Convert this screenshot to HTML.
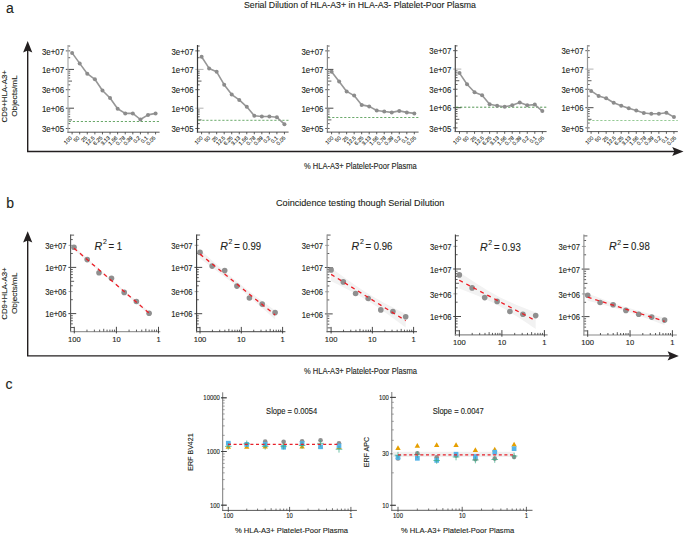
<!DOCTYPE html>
<html><head><meta charset="utf-8"><title>Serial Dilution</title>
<style>html,body{margin:0;padding:0;background:#fff;}body{width:685px;height:534px;overflow:hidden;font-family:"Liberation Sans", sans-serif;}svg{display:block;}text{stroke:#231f20;stroke-width:0.12px;}</style>
</head><body>
<svg width="685" height="534" viewBox="0 0 685 534" font-family='"Liberation Sans", sans-serif'>
<text x="6" y="12.9" font-size="14" text-anchor="start" fill="#231f20" >a</text>
<text x="6.2" y="208" font-size="14" text-anchor="start" fill="#231f20" >b</text>
<text x="5.6" y="389.1" font-size="14" text-anchor="start" fill="#231f20" >c</text>
<text x="244" y="7.9" font-size="9.6" text-anchor="start" fill="#231f20" textLength="232" lengthAdjust="spacingAndGlyphs" >Serial Dilution of HLA-A3+ in HLA-A3- Platelet-Poor Plasma</text>
<text x="276" y="206" font-size="9.6" text-anchor="start" fill="#231f20" textLength="168.4" lengthAdjust="spacingAndGlyphs" >Coincidence testing though Serial Dilution</text>
<line x1="27.7" y1="49.1" x2="27.7" y2="151.5" stroke="#231f20" stroke-width="1.4" />
<polygon points="27.7,41.1 32.3,52.4 27.7,50.4 23.1,52.4" fill="#231f20" />
<line x1="27" y1="151.5" x2="675.2" y2="151.5" stroke="#231f20" stroke-width="1.4" />
<polygon points="683.5,151.5 672.2,146.9 674.4,151.5 672.2,156.1" fill="#231f20" />
<text transform="translate(7.1,96.3) rotate(-90)" font-size="7.6" text-anchor="middle" fill="#231f20" textLength="52.4" lengthAdjust="spacingAndGlyphs">CD9+HLA-A3+</text>
<text transform="translate(16.9,96) rotate(-90)" font-size="7.6" text-anchor="middle" fill="#231f20" textLength="41.6" lengthAdjust="spacingAndGlyphs">Objects/mL</text>
<text x="304" y="169" font-size="8.6" text-anchor="start" fill="#231f20" textLength="112.8" lengthAdjust="spacingAndGlyphs" >% HLA-A3+ Platelet-Poor Plasma</text>
<line x1="65.8" y1="128.49" x2="70.2" y2="128.49" stroke="#333" stroke-width="0.8" />
<line x1="68" y1="123.64" x2="70.2" y2="123.64" stroke="#333" stroke-width="0.8" />
<line x1="68" y1="119.88" x2="72" y2="119.88" stroke="#333" stroke-width="0.8" />
<line x1="68" y1="116.81" x2="70.2" y2="116.81" stroke="#333" stroke-width="0.8" />
<line x1="68" y1="114.21" x2="70.2" y2="114.21" stroke="#333" stroke-width="0.8" />
<line x1="68" y1="111.96" x2="70.2" y2="111.96" stroke="#333" stroke-width="0.8" />
<line x1="68" y1="109.98" x2="70.2" y2="109.98" stroke="#333" stroke-width="0.8" />
<line x1="65.8" y1="108.2" x2="74" y2="108.2" stroke="#333" stroke-width="0.9" />
<line x1="68" y1="96.52" x2="70.2" y2="96.52" stroke="#333" stroke-width="0.8" />
<line x1="65.8" y1="89.69" x2="70.2" y2="89.69" stroke="#333" stroke-width="0.8" />
<line x1="68" y1="84.84" x2="70.2" y2="84.84" stroke="#333" stroke-width="0.8" />
<line x1="68" y1="81.08" x2="72" y2="81.08" stroke="#333" stroke-width="0.8" />
<line x1="68" y1="78.01" x2="70.2" y2="78.01" stroke="#333" stroke-width="0.8" />
<line x1="68" y1="75.41" x2="70.2" y2="75.41" stroke="#333" stroke-width="0.8" />
<line x1="68" y1="73.16" x2="70.2" y2="73.16" stroke="#333" stroke-width="0.8" />
<line x1="68" y1="71.18" x2="70.2" y2="71.18" stroke="#333" stroke-width="0.8" />
<line x1="65.8" y1="69.4" x2="74" y2="69.4" stroke="#333" stroke-width="0.9" />
<line x1="68" y1="57.72" x2="70.2" y2="57.72" stroke="#333" stroke-width="0.8" />
<line x1="65.8" y1="50.89" x2="70.2" y2="50.89" stroke="#333" stroke-width="0.8" />
<line x1="68" y1="46.04" x2="70.2" y2="46.04" stroke="#333" stroke-width="0.8" />
<line x1="68" y1="45" x2="68" y2="132.7" stroke="#ababab" stroke-width="1.2" />
<text x="64" y="54.59" font-size="8.6" text-anchor="end" fill="#231f20" textLength="22" lengthAdjust="spacingAndGlyphs" >3e+07</text>
<text x="64" y="73.1" font-size="8.6" text-anchor="end" fill="#231f20" textLength="22" lengthAdjust="spacingAndGlyphs" >1e+07</text>
<text x="64" y="93.39" font-size="8.6" text-anchor="end" fill="#231f20" textLength="22" lengthAdjust="spacingAndGlyphs" >3e+06</text>
<text x="64" y="111.9" font-size="8.6" text-anchor="end" fill="#231f20" textLength="22" lengthAdjust="spacingAndGlyphs" >1e+06</text>
<text x="64" y="132.19" font-size="8.6" text-anchor="end" fill="#231f20" textLength="22" lengthAdjust="spacingAndGlyphs" >3e+05</text>
<line x1="67.4" y1="132.2" x2="159.6" y2="132.2" stroke="#555" stroke-width="1.0" />
<line x1="72.1" y1="132.2" x2="72.1" y2="134.4" stroke="#333" stroke-width="0.8" />
<text transform="translate(72.4,138.3) rotate(-45)" font-size="5.4" text-anchor="end" fill="#231f20" stroke="#231f20" stroke-width="0.18">100</text>
<line x1="79.69" y1="132.2" x2="79.69" y2="134.4" stroke="#333" stroke-width="0.8" />
<text transform="translate(79.99,138.3) rotate(-45)" font-size="5.4" text-anchor="end" fill="#231f20" stroke="#231f20" stroke-width="0.18">50</text>
<line x1="87.28" y1="132.2" x2="87.28" y2="134.4" stroke="#333" stroke-width="0.8" />
<text transform="translate(87.58,138.3) rotate(-45)" font-size="5.4" text-anchor="end" fill="#231f20" stroke="#231f20" stroke-width="0.18">25</text>
<line x1="94.87" y1="132.2" x2="94.87" y2="134.4" stroke="#333" stroke-width="0.8" />
<text transform="translate(95.17,138.3) rotate(-45)" font-size="5.4" text-anchor="end" fill="#231f20" stroke="#231f20" stroke-width="0.18">12.5</text>
<line x1="102.46" y1="132.2" x2="102.46" y2="134.4" stroke="#333" stroke-width="0.8" />
<text transform="translate(102.76,138.3) rotate(-45)" font-size="5.4" text-anchor="end" fill="#231f20" stroke="#231f20" stroke-width="0.18">6.25</text>
<line x1="110.05" y1="132.2" x2="110.05" y2="134.4" stroke="#333" stroke-width="0.8" />
<text transform="translate(110.35,138.3) rotate(-45)" font-size="5.4" text-anchor="end" fill="#231f20" stroke="#231f20" stroke-width="0.18">3.13</text>
<line x1="117.64" y1="132.2" x2="117.64" y2="134.4" stroke="#333" stroke-width="0.8" />
<text transform="translate(117.94,138.3) rotate(-45)" font-size="5.4" text-anchor="end" fill="#231f20" stroke="#231f20" stroke-width="0.18">1.56</text>
<line x1="125.23" y1="132.2" x2="125.23" y2="134.4" stroke="#333" stroke-width="0.8" />
<text transform="translate(125.53,138.3) rotate(-45)" font-size="5.4" text-anchor="end" fill="#231f20" stroke="#231f20" stroke-width="0.18">0.78</text>
<line x1="132.82" y1="132.2" x2="132.82" y2="134.4" stroke="#333" stroke-width="0.8" />
<text transform="translate(133.12,138.3) rotate(-45)" font-size="5.4" text-anchor="end" fill="#231f20" stroke="#231f20" stroke-width="0.18">0.39</text>
<line x1="140.41" y1="132.2" x2="140.41" y2="134.4" stroke="#333" stroke-width="0.8" />
<text transform="translate(140.71,138.3) rotate(-45)" font-size="5.4" text-anchor="end" fill="#231f20" stroke="#231f20" stroke-width="0.18">0.2</text>
<line x1="148" y1="132.2" x2="148" y2="134.4" stroke="#333" stroke-width="0.8" />
<text transform="translate(148.3,138.3) rotate(-45)" font-size="5.4" text-anchor="end" fill="#231f20" stroke="#231f20" stroke-width="0.18">0.1</text>
<line x1="155.59" y1="132.2" x2="155.59" y2="134.4" stroke="#333" stroke-width="0.8" />
<text transform="translate(155.89,138.3) rotate(-45)" font-size="5.4" text-anchor="end" fill="#231f20" stroke="#231f20" stroke-width="0.18">0.05</text>
<line x1="68.8" y1="121.5" x2="159.6" y2="121.5" stroke="#5a9f5a" stroke-width="0.9" stroke-dasharray="2.2,1.8" />
<polyline points="72.1,52.9 79.69,63.4 87.28,73.7 94.87,79.3 102.46,90.5 110.05,98 117.64,108.7 125.23,113.4 132.82,113.4 140.41,119.5 148,114.9 155.59,113.4" fill="none" stroke="#979797" stroke-width="1.6" stroke-linejoin="round"/>
<circle cx="72.1" cy="52.9" r="2" fill="#8c8c8c" />
<circle cx="79.69" cy="63.4" r="2" fill="#8c8c8c" />
<circle cx="87.28" cy="73.7" r="2" fill="#8c8c8c" />
<circle cx="94.87" cy="79.3" r="2" fill="#8c8c8c" />
<circle cx="102.46" cy="90.5" r="2" fill="#8c8c8c" />
<circle cx="110.05" cy="98" r="2" fill="#8c8c8c" />
<circle cx="117.64" cy="108.7" r="2" fill="#8c8c8c" />
<circle cx="125.23" cy="113.4" r="2" fill="#8c8c8c" />
<circle cx="132.82" cy="113.4" r="2" fill="#8c8c8c" />
<circle cx="140.41" cy="119.5" r="2" fill="#8c8c8c" />
<circle cx="148" cy="114.9" r="2" fill="#8c8c8c" />
<circle cx="155.59" cy="113.4" r="2" fill="#8c8c8c" />
<line x1="195.3" y1="128.49" x2="199.7" y2="128.49" stroke="#333" stroke-width="0.8" />
<line x1="197.5" y1="123.64" x2="199.7" y2="123.64" stroke="#333" stroke-width="0.8" />
<line x1="197.5" y1="119.88" x2="201.5" y2="119.88" stroke="#333" stroke-width="0.8" />
<line x1="197.5" y1="116.81" x2="199.7" y2="116.81" stroke="#333" stroke-width="0.8" />
<line x1="197.5" y1="114.21" x2="199.7" y2="114.21" stroke="#333" stroke-width="0.8" />
<line x1="197.5" y1="111.96" x2="199.7" y2="111.96" stroke="#333" stroke-width="0.8" />
<line x1="197.5" y1="109.98" x2="199.7" y2="109.98" stroke="#333" stroke-width="0.8" />
<line x1="195.3" y1="108.2" x2="203.5" y2="108.2" stroke="#aaa" stroke-width="0.9" />
<line x1="197.5" y1="96.52" x2="199.7" y2="96.52" stroke="#333" stroke-width="0.8" />
<line x1="195.3" y1="89.69" x2="199.7" y2="89.69" stroke="#333" stroke-width="0.8" />
<line x1="197.5" y1="84.84" x2="199.7" y2="84.84" stroke="#333" stroke-width="0.8" />
<line x1="197.5" y1="81.08" x2="201.5" y2="81.08" stroke="#333" stroke-width="0.8" />
<line x1="197.5" y1="78.01" x2="199.7" y2="78.01" stroke="#333" stroke-width="0.8" />
<line x1="197.5" y1="75.41" x2="199.7" y2="75.41" stroke="#333" stroke-width="0.8" />
<line x1="197.5" y1="73.16" x2="199.7" y2="73.16" stroke="#333" stroke-width="0.8" />
<line x1="197.5" y1="71.18" x2="199.7" y2="71.18" stroke="#333" stroke-width="0.8" />
<line x1="195.3" y1="69.4" x2="203.5" y2="69.4" stroke="#aaa" stroke-width="0.9" />
<line x1="197.5" y1="57.72" x2="199.7" y2="57.72" stroke="#333" stroke-width="0.8" />
<line x1="195.3" y1="50.89" x2="199.7" y2="50.89" stroke="#333" stroke-width="0.8" />
<line x1="197.5" y1="46.04" x2="199.7" y2="46.04" stroke="#333" stroke-width="0.8" />
<line x1="197.5" y1="45" x2="197.5" y2="132.6" stroke="#3a3a3a" stroke-width="1.2" />
<text x="193.5" y="54.59" font-size="8.6" text-anchor="end" fill="#231f20" textLength="22" lengthAdjust="spacingAndGlyphs" >3e+07</text>
<text x="193.5" y="73.1" font-size="8.6" text-anchor="end" fill="#231f20" textLength="22" lengthAdjust="spacingAndGlyphs" >1e+07</text>
<text x="193.5" y="93.39" font-size="8.6" text-anchor="end" fill="#231f20" textLength="22" lengthAdjust="spacingAndGlyphs" >3e+06</text>
<text x="193.5" y="111.9" font-size="8.6" text-anchor="end" fill="#231f20" textLength="22" lengthAdjust="spacingAndGlyphs" >1e+06</text>
<text x="193.5" y="132.19" font-size="8.6" text-anchor="end" fill="#231f20" textLength="22" lengthAdjust="spacingAndGlyphs" >3e+05</text>
<line x1="196.9" y1="132.1" x2="288.6" y2="132.1" stroke="#555" stroke-width="1.0" />
<line x1="201.6" y1="132.1" x2="201.6" y2="134.3" stroke="#333" stroke-width="0.8" />
<text transform="translate(203.1,138.3) rotate(-45)" font-size="5.4" text-anchor="end" fill="#231f20" stroke="#231f20" stroke-width="0.18">100</text>
<line x1="209.13" y1="132.1" x2="209.13" y2="134.3" stroke="#333" stroke-width="0.8" />
<text transform="translate(210.63,138.3) rotate(-45)" font-size="5.4" text-anchor="end" fill="#231f20" stroke="#231f20" stroke-width="0.18">50</text>
<line x1="216.66" y1="132.1" x2="216.66" y2="134.3" stroke="#333" stroke-width="0.8" />
<text transform="translate(218.16,138.3) rotate(-45)" font-size="5.4" text-anchor="end" fill="#231f20" stroke="#231f20" stroke-width="0.18">25</text>
<line x1="224.19" y1="132.1" x2="224.19" y2="134.3" stroke="#333" stroke-width="0.8" />
<text transform="translate(225.69,138.3) rotate(-45)" font-size="5.4" text-anchor="end" fill="#231f20" stroke="#231f20" stroke-width="0.18">12.5</text>
<line x1="231.72" y1="132.1" x2="231.72" y2="134.3" stroke="#333" stroke-width="0.8" />
<text transform="translate(233.22,138.3) rotate(-45)" font-size="5.4" text-anchor="end" fill="#231f20" stroke="#231f20" stroke-width="0.18">6.25</text>
<line x1="239.25" y1="132.1" x2="239.25" y2="134.3" stroke="#333" stroke-width="0.8" />
<text transform="translate(240.75,138.3) rotate(-45)" font-size="5.4" text-anchor="end" fill="#231f20" stroke="#231f20" stroke-width="0.18">3.13</text>
<line x1="246.78" y1="132.1" x2="246.78" y2="134.3" stroke="#333" stroke-width="0.8" />
<text transform="translate(248.28,138.3) rotate(-45)" font-size="5.4" text-anchor="end" fill="#231f20" stroke="#231f20" stroke-width="0.18">1.56</text>
<line x1="254.31" y1="132.1" x2="254.31" y2="134.3" stroke="#333" stroke-width="0.8" />
<text transform="translate(255.81,138.3) rotate(-45)" font-size="5.4" text-anchor="end" fill="#231f20" stroke="#231f20" stroke-width="0.18">0.78</text>
<line x1="261.84" y1="132.1" x2="261.84" y2="134.3" stroke="#333" stroke-width="0.8" />
<text transform="translate(263.34,138.3) rotate(-45)" font-size="5.4" text-anchor="end" fill="#231f20" stroke="#231f20" stroke-width="0.18">0.39</text>
<line x1="269.37" y1="132.1" x2="269.37" y2="134.3" stroke="#333" stroke-width="0.8" />
<text transform="translate(270.87,138.3) rotate(-45)" font-size="5.4" text-anchor="end" fill="#231f20" stroke="#231f20" stroke-width="0.18">0.2</text>
<line x1="276.9" y1="132.1" x2="276.9" y2="134.3" stroke="#333" stroke-width="0.8" />
<text transform="translate(278.4,138.3) rotate(-45)" font-size="5.4" text-anchor="end" fill="#231f20" stroke="#231f20" stroke-width="0.18">0.1</text>
<line x1="284.43" y1="132.1" x2="284.43" y2="134.3" stroke="#333" stroke-width="0.8" />
<text transform="translate(285.93,138.3) rotate(-45)" font-size="5.4" text-anchor="end" fill="#231f20" stroke="#231f20" stroke-width="0.18">0.05</text>
<line x1="198.3" y1="120.3" x2="288.6" y2="120.3" stroke="#5aa05a" stroke-width="0.9" stroke-dasharray="2.2,1.8" />
<polyline points="201.6,56.8 209.13,68.4 216.66,71.8 224.19,84.7 231.72,94.6 239.25,99.9 246.78,106.8 254.31,115.8 261.84,116.5 269.37,116.5 276.9,117.3 284.43,124.2" fill="none" stroke="#979797" stroke-width="1.6" stroke-linejoin="round"/>
<circle cx="201.6" cy="56.8" r="2" fill="#8c8c8c" />
<circle cx="209.13" cy="68.4" r="2" fill="#8c8c8c" />
<circle cx="216.66" cy="71.8" r="2" fill="#8c8c8c" />
<circle cx="224.19" cy="84.7" r="2" fill="#8c8c8c" />
<circle cx="231.72" cy="94.6" r="2" fill="#8c8c8c" />
<circle cx="239.25" cy="99.9" r="2" fill="#8c8c8c" />
<circle cx="246.78" cy="106.8" r="2" fill="#8c8c8c" />
<circle cx="254.31" cy="115.8" r="2" fill="#8c8c8c" />
<circle cx="261.84" cy="116.5" r="2" fill="#8c8c8c" />
<circle cx="269.37" cy="116.5" r="2" fill="#8c8c8c" />
<circle cx="276.9" cy="117.3" r="2" fill="#8c8c8c" />
<circle cx="284.43" cy="124.2" r="2" fill="#8c8c8c" />
<line x1="325.2" y1="128.49" x2="329.6" y2="128.49" stroke="#333" stroke-width="0.8" />
<line x1="327.4" y1="123.64" x2="329.6" y2="123.64" stroke="#333" stroke-width="0.8" />
<line x1="327.4" y1="119.88" x2="331.4" y2="119.88" stroke="#333" stroke-width="0.8" />
<line x1="327.4" y1="116.81" x2="329.6" y2="116.81" stroke="#333" stroke-width="0.8" />
<line x1="327.4" y1="114.21" x2="329.6" y2="114.21" stroke="#333" stroke-width="0.8" />
<line x1="327.4" y1="111.96" x2="329.6" y2="111.96" stroke="#333" stroke-width="0.8" />
<line x1="327.4" y1="109.98" x2="329.6" y2="109.98" stroke="#333" stroke-width="0.8" />
<line x1="325.2" y1="108.2" x2="333.4" y2="108.2" stroke="#333" stroke-width="0.9" />
<line x1="327.4" y1="96.52" x2="329.6" y2="96.52" stroke="#333" stroke-width="0.8" />
<line x1="325.2" y1="89.69" x2="329.6" y2="89.69" stroke="#333" stroke-width="0.8" />
<line x1="327.4" y1="84.84" x2="329.6" y2="84.84" stroke="#333" stroke-width="0.8" />
<line x1="327.4" y1="81.08" x2="331.4" y2="81.08" stroke="#333" stroke-width="0.8" />
<line x1="327.4" y1="78.01" x2="329.6" y2="78.01" stroke="#333" stroke-width="0.8" />
<line x1="327.4" y1="75.41" x2="329.6" y2="75.41" stroke="#333" stroke-width="0.8" />
<line x1="327.4" y1="73.16" x2="329.6" y2="73.16" stroke="#333" stroke-width="0.8" />
<line x1="327.4" y1="71.18" x2="329.6" y2="71.18" stroke="#333" stroke-width="0.8" />
<line x1="325.2" y1="69.4" x2="333.4" y2="69.4" stroke="#333" stroke-width="0.9" />
<line x1="327.4" y1="57.72" x2="329.6" y2="57.72" stroke="#333" stroke-width="0.8" />
<line x1="325.2" y1="50.89" x2="329.6" y2="50.89" stroke="#333" stroke-width="0.8" />
<line x1="327.4" y1="46.04" x2="329.6" y2="46.04" stroke="#333" stroke-width="0.8" />
<line x1="327.4" y1="45" x2="327.4" y2="132.6" stroke="#8a8a8a" stroke-width="1.2" />
<text x="323.4" y="54.59" font-size="8.6" text-anchor="end" fill="#231f20" textLength="22" lengthAdjust="spacingAndGlyphs" >3e+07</text>
<text x="323.4" y="73.1" font-size="8.6" text-anchor="end" fill="#231f20" textLength="22" lengthAdjust="spacingAndGlyphs" >1e+07</text>
<text x="323.4" y="93.39" font-size="8.6" text-anchor="end" fill="#231f20" textLength="22" lengthAdjust="spacingAndGlyphs" >3e+06</text>
<text x="323.4" y="111.9" font-size="8.6" text-anchor="end" fill="#231f20" textLength="22" lengthAdjust="spacingAndGlyphs" >1e+06</text>
<text x="323.4" y="132.19" font-size="8.6" text-anchor="end" fill="#231f20" textLength="22" lengthAdjust="spacingAndGlyphs" >3e+05</text>
<line x1="326.8" y1="132.1" x2="418.6" y2="132.1" stroke="#555" stroke-width="1.0" />
<line x1="331.6" y1="132.1" x2="331.6" y2="134.3" stroke="#333" stroke-width="0.8" />
<text transform="translate(333.8,138.3) rotate(-45)" font-size="5.4" text-anchor="end" fill="#231f20" stroke="#231f20" stroke-width="0.18">100</text>
<line x1="339.12" y1="132.1" x2="339.12" y2="134.3" stroke="#333" stroke-width="0.8" />
<text transform="translate(341.32,138.3) rotate(-45)" font-size="5.4" text-anchor="end" fill="#231f20" stroke="#231f20" stroke-width="0.18">50</text>
<line x1="346.64" y1="132.1" x2="346.64" y2="134.3" stroke="#333" stroke-width="0.8" />
<text transform="translate(348.84,138.3) rotate(-45)" font-size="5.4" text-anchor="end" fill="#231f20" stroke="#231f20" stroke-width="0.18">25</text>
<line x1="354.16" y1="132.1" x2="354.16" y2="134.3" stroke="#333" stroke-width="0.8" />
<text transform="translate(356.36,138.3) rotate(-45)" font-size="5.4" text-anchor="end" fill="#231f20" stroke="#231f20" stroke-width="0.18">12.5</text>
<line x1="361.68" y1="132.1" x2="361.68" y2="134.3" stroke="#333" stroke-width="0.8" />
<text transform="translate(363.88,138.3) rotate(-45)" font-size="5.4" text-anchor="end" fill="#231f20" stroke="#231f20" stroke-width="0.18">6.25</text>
<line x1="369.2" y1="132.1" x2="369.2" y2="134.3" stroke="#333" stroke-width="0.8" />
<text transform="translate(371.4,138.3) rotate(-45)" font-size="5.4" text-anchor="end" fill="#231f20" stroke="#231f20" stroke-width="0.18">3.13</text>
<line x1="376.72" y1="132.1" x2="376.72" y2="134.3" stroke="#333" stroke-width="0.8" />
<text transform="translate(378.92,138.3) rotate(-45)" font-size="5.4" text-anchor="end" fill="#231f20" stroke="#231f20" stroke-width="0.18">1.56</text>
<line x1="384.24" y1="132.1" x2="384.24" y2="134.3" stroke="#333" stroke-width="0.8" />
<text transform="translate(386.44,138.3) rotate(-45)" font-size="5.4" text-anchor="end" fill="#231f20" stroke="#231f20" stroke-width="0.18">0.78</text>
<line x1="391.76" y1="132.1" x2="391.76" y2="134.3" stroke="#333" stroke-width="0.8" />
<text transform="translate(393.96,138.3) rotate(-45)" font-size="5.4" text-anchor="end" fill="#231f20" stroke="#231f20" stroke-width="0.18">0.39</text>
<line x1="399.28" y1="132.1" x2="399.28" y2="134.3" stroke="#333" stroke-width="0.8" />
<text transform="translate(401.48,138.3) rotate(-45)" font-size="5.4" text-anchor="end" fill="#231f20" stroke="#231f20" stroke-width="0.18">0.2</text>
<line x1="406.8" y1="132.1" x2="406.8" y2="134.3" stroke="#333" stroke-width="0.8" />
<text transform="translate(409,138.3) rotate(-45)" font-size="5.4" text-anchor="end" fill="#231f20" stroke="#231f20" stroke-width="0.18">0.1</text>
<line x1="414.32" y1="132.1" x2="414.32" y2="134.3" stroke="#333" stroke-width="0.8" />
<text transform="translate(416.52,138.3) rotate(-45)" font-size="5.4" text-anchor="end" fill="#231f20" stroke="#231f20" stroke-width="0.18">0.05</text>
<line x1="328.2" y1="117.5" x2="418.6" y2="117.5" stroke="#5a9f5a" stroke-width="0.9" stroke-dasharray="2.2,1.8" />
<polyline points="331.6,71.8 339.12,81.5 346.64,91.4 354.16,95.6 361.68,104.9 369.2,106.4 376.72,110.5 384.24,111.5 391.76,112.4 399.28,110.9 406.8,112.4 414.32,113.4" fill="none" stroke="#979797" stroke-width="1.6" stroke-linejoin="round"/>
<circle cx="331.6" cy="71.8" r="2" fill="#8c8c8c" />
<circle cx="339.12" cy="81.5" r="2" fill="#8c8c8c" />
<circle cx="346.64" cy="91.4" r="2" fill="#8c8c8c" />
<circle cx="354.16" cy="95.6" r="2" fill="#8c8c8c" />
<circle cx="361.68" cy="104.9" r="2" fill="#8c8c8c" />
<circle cx="369.2" cy="106.4" r="2" fill="#8c8c8c" />
<circle cx="376.72" cy="110.5" r="2" fill="#8c8c8c" />
<circle cx="384.24" cy="111.5" r="2" fill="#8c8c8c" />
<circle cx="391.76" cy="112.4" r="2" fill="#8c8c8c" />
<circle cx="399.28" cy="110.9" r="2" fill="#8c8c8c" />
<circle cx="406.8" cy="112.4" r="2" fill="#8c8c8c" />
<circle cx="414.32" cy="113.4" r="2" fill="#8c8c8c" />
<line x1="453.1" y1="127.88" x2="457.5" y2="127.88" stroke="#333" stroke-width="0.8" />
<line x1="455.3" y1="123.06" x2="457.5" y2="123.06" stroke="#333" stroke-width="0.8" />
<line x1="455.3" y1="119.32" x2="459.3" y2="119.32" stroke="#333" stroke-width="0.8" />
<line x1="455.3" y1="116.26" x2="457.5" y2="116.26" stroke="#333" stroke-width="0.8" />
<line x1="455.3" y1="113.68" x2="457.5" y2="113.68" stroke="#333" stroke-width="0.8" />
<line x1="455.3" y1="111.44" x2="457.5" y2="111.44" stroke="#333" stroke-width="0.8" />
<line x1="455.3" y1="109.47" x2="457.5" y2="109.47" stroke="#333" stroke-width="0.8" />
<line x1="453.1" y1="107.7" x2="461.3" y2="107.7" stroke="#333" stroke-width="0.9" />
<line x1="455.3" y1="96.08" x2="457.5" y2="96.08" stroke="#333" stroke-width="0.8" />
<line x1="453.1" y1="89.28" x2="457.5" y2="89.28" stroke="#333" stroke-width="0.8" />
<line x1="455.3" y1="84.46" x2="457.5" y2="84.46" stroke="#333" stroke-width="0.8" />
<line x1="455.3" y1="80.72" x2="459.3" y2="80.72" stroke="#333" stroke-width="0.8" />
<line x1="455.3" y1="77.66" x2="457.5" y2="77.66" stroke="#333" stroke-width="0.8" />
<line x1="455.3" y1="75.08" x2="457.5" y2="75.08" stroke="#333" stroke-width="0.8" />
<line x1="455.3" y1="72.84" x2="457.5" y2="72.84" stroke="#333" stroke-width="0.8" />
<line x1="455.3" y1="70.87" x2="457.5" y2="70.87" stroke="#333" stroke-width="0.8" />
<line x1="453.1" y1="69.1" x2="461.3" y2="69.1" stroke="#aaa" stroke-width="0.9" />
<line x1="455.3" y1="57.48" x2="457.5" y2="57.48" stroke="#333" stroke-width="0.8" />
<line x1="453.1" y1="50.68" x2="457.5" y2="50.68" stroke="#333" stroke-width="0.8" />
<line x1="455.3" y1="45.86" x2="457.5" y2="45.86" stroke="#333" stroke-width="0.8" />
<line x1="455.3" y1="45" x2="455.3" y2="132.1" stroke="#4a4a4a" stroke-width="1.2" />
<text x="451.3" y="54.38" font-size="8.6" text-anchor="end" fill="#231f20" textLength="22" lengthAdjust="spacingAndGlyphs" >3e+07</text>
<text x="451.3" y="72.8" font-size="8.6" text-anchor="end" fill="#231f20" textLength="22" lengthAdjust="spacingAndGlyphs" >1e+07</text>
<text x="451.3" y="92.98" font-size="8.6" text-anchor="end" fill="#231f20" textLength="22" lengthAdjust="spacingAndGlyphs" >3e+06</text>
<text x="451.3" y="111.4" font-size="8.6" text-anchor="end" fill="#231f20" textLength="22" lengthAdjust="spacingAndGlyphs" >1e+06</text>
<text x="451.3" y="131.58" font-size="8.6" text-anchor="end" fill="#231f20" textLength="22" lengthAdjust="spacingAndGlyphs" >3e+05</text>
<line x1="454.7" y1="131.6" x2="546.6" y2="131.6" stroke="#555" stroke-width="1.0" />
<line x1="459.5" y1="131.6" x2="459.5" y2="133.8" stroke="#333" stroke-width="0.8" />
<text transform="translate(461.7,138.3) rotate(-45)" font-size="5.4" text-anchor="end" fill="#231f20" stroke="#231f20" stroke-width="0.18">100</text>
<line x1="467.03" y1="131.6" x2="467.03" y2="133.8" stroke="#333" stroke-width="0.8" />
<text transform="translate(469.23,138.3) rotate(-45)" font-size="5.4" text-anchor="end" fill="#231f20" stroke="#231f20" stroke-width="0.18">50</text>
<line x1="474.56" y1="131.6" x2="474.56" y2="133.8" stroke="#333" stroke-width="0.8" />
<text transform="translate(476.76,138.3) rotate(-45)" font-size="5.4" text-anchor="end" fill="#231f20" stroke="#231f20" stroke-width="0.18">25</text>
<line x1="482.09" y1="131.6" x2="482.09" y2="133.8" stroke="#333" stroke-width="0.8" />
<text transform="translate(484.29,138.3) rotate(-45)" font-size="5.4" text-anchor="end" fill="#231f20" stroke="#231f20" stroke-width="0.18">12.5</text>
<line x1="489.62" y1="131.6" x2="489.62" y2="133.8" stroke="#333" stroke-width="0.8" />
<text transform="translate(491.82,138.3) rotate(-45)" font-size="5.4" text-anchor="end" fill="#231f20" stroke="#231f20" stroke-width="0.18">6.25</text>
<line x1="497.15" y1="131.6" x2="497.15" y2="133.8" stroke="#333" stroke-width="0.8" />
<text transform="translate(499.35,138.3) rotate(-45)" font-size="5.4" text-anchor="end" fill="#231f20" stroke="#231f20" stroke-width="0.18">3.13</text>
<line x1="504.68" y1="131.6" x2="504.68" y2="133.8" stroke="#333" stroke-width="0.8" />
<text transform="translate(506.88,138.3) rotate(-45)" font-size="5.4" text-anchor="end" fill="#231f20" stroke="#231f20" stroke-width="0.18">1.56</text>
<line x1="512.21" y1="131.6" x2="512.21" y2="133.8" stroke="#333" stroke-width="0.8" />
<text transform="translate(514.41,138.3) rotate(-45)" font-size="5.4" text-anchor="end" fill="#231f20" stroke="#231f20" stroke-width="0.18">0.78</text>
<line x1="519.74" y1="131.6" x2="519.74" y2="133.8" stroke="#333" stroke-width="0.8" />
<text transform="translate(521.94,138.3) rotate(-45)" font-size="5.4" text-anchor="end" fill="#231f20" stroke="#231f20" stroke-width="0.18">0.39</text>
<line x1="527.27" y1="131.6" x2="527.27" y2="133.8" stroke="#333" stroke-width="0.8" />
<text transform="translate(529.47,138.3) rotate(-45)" font-size="5.4" text-anchor="end" fill="#231f20" stroke="#231f20" stroke-width="0.18">0.2</text>
<line x1="534.8" y1="131.6" x2="534.8" y2="133.8" stroke="#333" stroke-width="0.8" />
<text transform="translate(537,138.3) rotate(-45)" font-size="5.4" text-anchor="end" fill="#231f20" stroke="#231f20" stroke-width="0.18">0.1</text>
<line x1="542.33" y1="131.6" x2="542.33" y2="133.8" stroke="#333" stroke-width="0.8" />
<text transform="translate(544.53,138.3) rotate(-45)" font-size="5.4" text-anchor="end" fill="#231f20" stroke="#231f20" stroke-width="0.18">0.05</text>
<line x1="456.1" y1="107.2" x2="546.6" y2="107.2" stroke="#3d8a3d" stroke-width="0.9" stroke-dasharray="2.2,1.8" />
<polyline points="459.5,73.1 467.03,84.3 474.56,92.2 482.09,95.2 489.62,104.2 497.15,105.7 504.68,106.8 512.21,105.3 519.74,102.5 527.27,105.3 534.8,104.6 542.33,111.1" fill="none" stroke="#979797" stroke-width="1.6" stroke-linejoin="round"/>
<circle cx="459.5" cy="73.1" r="2" fill="#8c8c8c" />
<circle cx="467.03" cy="84.3" r="2" fill="#8c8c8c" />
<circle cx="474.56" cy="92.2" r="2" fill="#8c8c8c" />
<circle cx="482.09" cy="95.2" r="2" fill="#8c8c8c" />
<circle cx="489.62" cy="104.2" r="2" fill="#8c8c8c" />
<circle cx="497.15" cy="105.7" r="2" fill="#8c8c8c" />
<circle cx="504.68" cy="106.8" r="2" fill="#8c8c8c" />
<circle cx="512.21" cy="105.3" r="2" fill="#8c8c8c" />
<circle cx="519.74" cy="102.5" r="2" fill="#8c8c8c" />
<circle cx="527.27" cy="105.3" r="2" fill="#8c8c8c" />
<circle cx="534.8" cy="104.6" r="2" fill="#8c8c8c" />
<circle cx="542.33" cy="111.1" r="2" fill="#8c8c8c" />
<line x1="585.3" y1="127.88" x2="589.7" y2="127.88" stroke="#333" stroke-width="0.8" />
<line x1="587.5" y1="123.06" x2="589.7" y2="123.06" stroke="#333" stroke-width="0.8" />
<line x1="587.5" y1="119.32" x2="591.5" y2="119.32" stroke="#333" stroke-width="0.8" />
<line x1="587.5" y1="116.26" x2="589.7" y2="116.26" stroke="#333" stroke-width="0.8" />
<line x1="587.5" y1="113.68" x2="589.7" y2="113.68" stroke="#333" stroke-width="0.8" />
<line x1="587.5" y1="111.44" x2="589.7" y2="111.44" stroke="#333" stroke-width="0.8" />
<line x1="587.5" y1="109.47" x2="589.7" y2="109.47" stroke="#333" stroke-width="0.8" />
<line x1="585.3" y1="107.7" x2="593.5" y2="107.7" stroke="#333" stroke-width="0.9" />
<line x1="587.5" y1="96.08" x2="589.7" y2="96.08" stroke="#333" stroke-width="0.8" />
<line x1="585.3" y1="89.28" x2="589.7" y2="89.28" stroke="#333" stroke-width="0.8" />
<line x1="587.5" y1="84.46" x2="589.7" y2="84.46" stroke="#333" stroke-width="0.8" />
<line x1="587.5" y1="80.72" x2="591.5" y2="80.72" stroke="#333" stroke-width="0.8" />
<line x1="587.5" y1="77.66" x2="589.7" y2="77.66" stroke="#333" stroke-width="0.8" />
<line x1="587.5" y1="75.08" x2="589.7" y2="75.08" stroke="#333" stroke-width="0.8" />
<line x1="587.5" y1="72.84" x2="589.7" y2="72.84" stroke="#333" stroke-width="0.8" />
<line x1="587.5" y1="70.87" x2="589.7" y2="70.87" stroke="#333" stroke-width="0.8" />
<line x1="585.3" y1="69.1" x2="593.5" y2="69.1" stroke="#aaa" stroke-width="0.9" />
<line x1="587.5" y1="57.48" x2="589.7" y2="57.48" stroke="#333" stroke-width="0.8" />
<line x1="585.3" y1="50.68" x2="589.7" y2="50.68" stroke="#333" stroke-width="0.8" />
<line x1="587.5" y1="45.86" x2="589.7" y2="45.86" stroke="#333" stroke-width="0.8" />
<line x1="587.5" y1="45" x2="587.5" y2="132.1" stroke="#9a9a9a" stroke-width="1.2" />
<text x="583.5" y="54.38" font-size="8.6" text-anchor="end" fill="#231f20" textLength="22" lengthAdjust="spacingAndGlyphs" >3e+07</text>
<text x="583.5" y="72.8" font-size="8.6" text-anchor="end" fill="#231f20" textLength="22" lengthAdjust="spacingAndGlyphs" >1e+07</text>
<text x="583.5" y="92.98" font-size="8.6" text-anchor="end" fill="#231f20" textLength="22" lengthAdjust="spacingAndGlyphs" >3e+06</text>
<text x="583.5" y="111.4" font-size="8.6" text-anchor="end" fill="#231f20" textLength="22" lengthAdjust="spacingAndGlyphs" >1e+06</text>
<text x="583.5" y="131.58" font-size="8.6" text-anchor="end" fill="#231f20" textLength="22" lengthAdjust="spacingAndGlyphs" >3e+05</text>
<line x1="586.9" y1="131.6" x2="677.8" y2="131.6" stroke="#555" stroke-width="1.0" />
<line x1="591.1" y1="131.6" x2="591.1" y2="133.8" stroke="#333" stroke-width="0.8" />
<text transform="translate(593.8,138.3) rotate(-45)" font-size="5.4" text-anchor="end" fill="#231f20" stroke="#231f20" stroke-width="0.18">100</text>
<line x1="598.63" y1="131.6" x2="598.63" y2="133.8" stroke="#333" stroke-width="0.8" />
<text transform="translate(601.33,138.3) rotate(-45)" font-size="5.4" text-anchor="end" fill="#231f20" stroke="#231f20" stroke-width="0.18">50</text>
<line x1="606.16" y1="131.6" x2="606.16" y2="133.8" stroke="#333" stroke-width="0.8" />
<text transform="translate(608.86,138.3) rotate(-45)" font-size="5.4" text-anchor="end" fill="#231f20" stroke="#231f20" stroke-width="0.18">25</text>
<line x1="613.69" y1="131.6" x2="613.69" y2="133.8" stroke="#333" stroke-width="0.8" />
<text transform="translate(616.39,138.3) rotate(-45)" font-size="5.4" text-anchor="end" fill="#231f20" stroke="#231f20" stroke-width="0.18">12.5</text>
<line x1="621.22" y1="131.6" x2="621.22" y2="133.8" stroke="#333" stroke-width="0.8" />
<text transform="translate(623.92,138.3) rotate(-45)" font-size="5.4" text-anchor="end" fill="#231f20" stroke="#231f20" stroke-width="0.18">6.25</text>
<line x1="628.75" y1="131.6" x2="628.75" y2="133.8" stroke="#333" stroke-width="0.8" />
<text transform="translate(631.45,138.3) rotate(-45)" font-size="5.4" text-anchor="end" fill="#231f20" stroke="#231f20" stroke-width="0.18">3.13</text>
<line x1="636.28" y1="131.6" x2="636.28" y2="133.8" stroke="#333" stroke-width="0.8" />
<text transform="translate(638.98,138.3) rotate(-45)" font-size="5.4" text-anchor="end" fill="#231f20" stroke="#231f20" stroke-width="0.18">1.56</text>
<line x1="643.81" y1="131.6" x2="643.81" y2="133.8" stroke="#333" stroke-width="0.8" />
<text transform="translate(646.51,138.3) rotate(-45)" font-size="5.4" text-anchor="end" fill="#231f20" stroke="#231f20" stroke-width="0.18">0.78</text>
<line x1="651.34" y1="131.6" x2="651.34" y2="133.8" stroke="#333" stroke-width="0.8" />
<text transform="translate(654.04,138.3) rotate(-45)" font-size="5.4" text-anchor="end" fill="#231f20" stroke="#231f20" stroke-width="0.18">0.39</text>
<line x1="658.87" y1="131.6" x2="658.87" y2="133.8" stroke="#333" stroke-width="0.8" />
<text transform="translate(661.57,138.3) rotate(-45)" font-size="5.4" text-anchor="end" fill="#231f20" stroke="#231f20" stroke-width="0.18">0.2</text>
<line x1="666.4" y1="131.6" x2="666.4" y2="133.8" stroke="#333" stroke-width="0.8" />
<text transform="translate(669.1,138.3) rotate(-45)" font-size="5.4" text-anchor="end" fill="#231f20" stroke="#231f20" stroke-width="0.18">0.1</text>
<line x1="673.93" y1="131.6" x2="673.93" y2="133.8" stroke="#333" stroke-width="0.8" />
<text transform="translate(676.63,138.3) rotate(-45)" font-size="5.4" text-anchor="end" fill="#231f20" stroke="#231f20" stroke-width="0.18">0.05</text>
<line x1="588.3" y1="120.5" x2="677.8" y2="120.5" stroke="#88c488" stroke-width="0.9" stroke-dasharray="2.2,1.8" />
<polyline points="591.1,90.9 598.63,95.9 606.16,98.2 613.69,102.7 621.22,105.7 628.75,108.3 636.28,110.5 643.81,113 651.34,113.7 658.87,113.7 666.4,112.8 673.93,117.1" fill="none" stroke="#979797" stroke-width="1.6" stroke-linejoin="round"/>
<circle cx="591.1" cy="90.9" r="2" fill="#8c8c8c" />
<circle cx="598.63" cy="95.9" r="2" fill="#8c8c8c" />
<circle cx="606.16" cy="98.2" r="2" fill="#8c8c8c" />
<circle cx="613.69" cy="102.7" r="2" fill="#8c8c8c" />
<circle cx="621.22" cy="105.7" r="2" fill="#8c8c8c" />
<circle cx="628.75" cy="108.3" r="2" fill="#8c8c8c" />
<circle cx="636.28" cy="110.5" r="2" fill="#8c8c8c" />
<circle cx="643.81" cy="113" r="2" fill="#8c8c8c" />
<circle cx="651.34" cy="113.7" r="2" fill="#8c8c8c" />
<circle cx="658.87" cy="113.7" r="2" fill="#8c8c8c" />
<circle cx="666.4" cy="112.8" r="2" fill="#8c8c8c" />
<circle cx="673.93" cy="117.1" r="2" fill="#8c8c8c" />
<line x1="27.7" y1="239.3" x2="27.7" y2="355.9" stroke="#231f20" stroke-width="1.4" />
<polygon points="27.7,231.3 32.3,242.6 27.7,240.6 23.1,242.6" fill="#231f20" />
<line x1="27" y1="355.9" x2="670.6" y2="355.9" stroke="#231f20" stroke-width="1.4" />
<polygon points="678.8,355.9 667.6,351.3 669.8,355.9 667.6,360.5" fill="#231f20" />
<text transform="translate(7.1,293.6) rotate(-90)" font-size="7.6" text-anchor="middle" fill="#231f20" textLength="52.4" lengthAdjust="spacingAndGlyphs">CD9+HLA-A3+</text>
<text transform="translate(16.9,293.3) rotate(-90)" font-size="7.6" text-anchor="middle" fill="#231f20" textLength="41.6" lengthAdjust="spacingAndGlyphs">Objects/mL</text>
<text x="304" y="373.8" font-size="8.6" text-anchor="start" fill="#231f20" textLength="113" lengthAdjust="spacingAndGlyphs" >% HLA-A3+ Platelet-Poor Plasma</text>
<polygon points="74,246.36 77.75,249.73 81.51,253.09 85.27,256.46 89.02,259.81 92.78,263.15 96.53,266.49 100.28,269.81 104.04,273.11 107.8,276.39 111.55,279.65 115.3,282.89 119.06,286.1 122.81,289.3 126.57,292.48 130.32,295.64 134.08,298.79 137.83,301.94 141.59,305.07 145.34,308.2 149.1,311.33 149.1,314.93 145.34,311.56 141.59,308.19 137.83,304.83 134.08,301.48 130.32,298.14 126.57,294.8 122.81,291.48 119.06,288.18 115.3,284.9 111.55,281.64 107.8,278.41 104.04,275.19 100.28,272 96.53,268.82 92.78,265.66 89.02,262.5 85.27,259.36 81.51,256.22 77.75,253.1 74,249.97" fill="#f2f2f2" />
<line x1="70.6" y1="327.51" x2="74.1" y2="327.51" stroke="#333" stroke-width="0.8" />
<line x1="70.6" y1="323.85" x2="72.8" y2="323.85" stroke="#333" stroke-width="0.8" />
<line x1="70.6" y1="320.76" x2="72.8" y2="320.76" stroke="#333" stroke-width="0.8" />
<line x1="70.6" y1="318.08" x2="72.8" y2="318.08" stroke="#333" stroke-width="0.8" />
<line x1="70.6" y1="315.71" x2="72.8" y2="315.71" stroke="#333" stroke-width="0.8" />
<line x1="68.4" y1="313.6" x2="76.2" y2="313.6" stroke="#333" stroke-width="0.9" />
<line x1="70.6" y1="299.69" x2="72.8" y2="299.69" stroke="#333" stroke-width="0.8" />
<line x1="68.6" y1="291.56" x2="72.6" y2="291.56" stroke="#888" stroke-width="0.8" />
<line x1="70.6" y1="285.78" x2="72.8" y2="285.78" stroke="#333" stroke-width="0.8" />
<line x1="70.6" y1="281.31" x2="74.1" y2="281.31" stroke="#333" stroke-width="0.8" />
<line x1="70.6" y1="277.65" x2="72.8" y2="277.65" stroke="#333" stroke-width="0.8" />
<line x1="70.6" y1="274.56" x2="72.8" y2="274.56" stroke="#333" stroke-width="0.8" />
<line x1="70.6" y1="271.88" x2="72.8" y2="271.88" stroke="#333" stroke-width="0.8" />
<line x1="70.6" y1="269.51" x2="72.8" y2="269.51" stroke="#333" stroke-width="0.8" />
<line x1="68.4" y1="267.4" x2="76.2" y2="267.4" stroke="#333" stroke-width="0.9" />
<line x1="70.6" y1="253.49" x2="72.8" y2="253.49" stroke="#333" stroke-width="0.8" />
<line x1="68.6" y1="245.36" x2="72.6" y2="245.36" stroke="#888" stroke-width="0.8" />
<line x1="70.6" y1="239.58" x2="72.8" y2="239.58" stroke="#333" stroke-width="0.8" />
<line x1="70.6" y1="235.11" x2="74.1" y2="235.11" stroke="#333" stroke-width="0.8" />
<line x1="70.6" y1="234.6" x2="70.6" y2="332.1" stroke="#555555" stroke-width="1.1" />
<text x="66.6" y="249.06" font-size="8.4" text-anchor="end" fill="#231f20" textLength="21.4" lengthAdjust="spacingAndGlyphs" >3e+07</text>
<text x="66.6" y="271.1" font-size="8.4" text-anchor="end" fill="#231f20" textLength="21.4" lengthAdjust="spacingAndGlyphs" >1e+07</text>
<text x="66.6" y="295.26" font-size="8.4" text-anchor="end" fill="#231f20" textLength="21.4" lengthAdjust="spacingAndGlyphs" >3e+06</text>
<text x="66.6" y="317.3" font-size="8.4" text-anchor="end" fill="#231f20" textLength="21.4" lengthAdjust="spacingAndGlyphs" >1e+06</text>
<line x1="70.1" y1="331.6" x2="160.3" y2="331.6" stroke="#9a9a9a" stroke-width="1.2" />
<line x1="86.97" y1="331.6" x2="86.97" y2="329.6" stroke="#333" stroke-width="0.8" />
<line x1="94.39" y1="331.6" x2="94.39" y2="329.6" stroke="#333" stroke-width="0.8" />
<line x1="99.65" y1="331.6" x2="99.65" y2="329.6" stroke="#333" stroke-width="0.8" />
<line x1="103.73" y1="331.6" x2="103.73" y2="328.8" stroke="#333" stroke-width="0.8" />
<line x1="107.06" y1="331.6" x2="107.06" y2="329.6" stroke="#333" stroke-width="0.8" />
<line x1="109.88" y1="331.6" x2="109.88" y2="329.6" stroke="#333" stroke-width="0.8" />
<line x1="112.32" y1="331.6" x2="112.32" y2="329.6" stroke="#333" stroke-width="0.8" />
<line x1="114.47" y1="331.6" x2="114.47" y2="329.6" stroke="#333" stroke-width="0.8" />
<line x1="129.07" y1="331.6" x2="129.07" y2="329.6" stroke="#333" stroke-width="0.8" />
<line x1="136.49" y1="331.6" x2="136.49" y2="329.6" stroke="#333" stroke-width="0.8" />
<line x1="141.75" y1="331.6" x2="141.75" y2="329.6" stroke="#333" stroke-width="0.8" />
<line x1="145.83" y1="331.6" x2="145.83" y2="328.8" stroke="#333" stroke-width="0.8" />
<line x1="149.16" y1="331.6" x2="149.16" y2="329.6" stroke="#333" stroke-width="0.8" />
<line x1="151.98" y1="331.6" x2="151.98" y2="329.6" stroke="#333" stroke-width="0.8" />
<line x1="154.42" y1="331.6" x2="154.42" y2="329.6" stroke="#333" stroke-width="0.8" />
<line x1="156.57" y1="331.6" x2="156.57" y2="329.6" stroke="#333" stroke-width="0.8" />
<line x1="74.3" y1="326.8" x2="74.3" y2="333.4" stroke="#333" stroke-width="0.9" />
<text x="74.3" y="341.7" font-size="7.6" text-anchor="middle" fill="#231f20" >100</text>
<line x1="116.4" y1="326.8" x2="116.4" y2="333.4" stroke="#333" stroke-width="0.9" />
<text x="116.4" y="341.7" font-size="7.6" text-anchor="middle" fill="#231f20" >10</text>
<line x1="158.5" y1="326.8" x2="158.5" y2="333.4" stroke="#333" stroke-width="0.9" />
<text x="158.5" y="341.7" font-size="7.6" text-anchor="middle" fill="#231f20" >1</text>
<circle cx="74" cy="247.2" r="2.8" fill="#8f8f8f" />
<circle cx="87.2" cy="259.6" r="2.8" fill="#8f8f8f" />
<circle cx="99" cy="272.7" r="2.8" fill="#8f8f8f" />
<circle cx="111.5" cy="278.3" r="2.8" fill="#8f8f8f" />
<circle cx="124.2" cy="292.4" r="2.8" fill="#8f8f8f" />
<circle cx="136.4" cy="301.5" r="2.8" fill="#8f8f8f" />
<circle cx="149.1" cy="313.3" r="2.8" fill="#8f8f8f" />
<line x1="74" y1="248.16" x2="149.1" y2="313.13" stroke="#ee1c25" stroke-width="1.3" stroke-dasharray="4,3.9" />
<text x="94.5" y="249.8" font-size="10.6" text-anchor="start" fill="#231f20" font-style="italic">R</text>
<text x="102.9" y="244.4" font-size="6.9" text-anchor="start" fill="#231f20" >2</text>
<text x="108.5" y="249.8" font-size="10.5" text-anchor="start" fill="#231f20" textLength="13.55" lengthAdjust="spacingAndGlyphs" >= 1</text>
<polygon points="200,249.66 203.75,253.01 207.51,256.35 211.27,259.67 215.02,262.97 218.78,266.25 222.53,269.49 226.28,272.71 230.04,275.88 233.8,279 237.55,282.06 241.31,285.07 245.06,288.02 248.81,290.93 252.57,293.8 256.33,296.63 260.08,299.43 263.84,302.21 267.59,304.97 271.35,307.71 275.1,310.45 275.1,319.51 271.35,316.16 267.59,312.82 263.84,309.49 260.08,306.19 256.33,302.91 252.57,299.65 248.81,296.43 245.06,293.25 241.31,290.13 237.55,287.05 233.8,284.03 230.04,281.07 226.28,278.15 222.53,275.28 218.78,272.44 215.02,269.64 211.27,266.85 207.51,264.09 203.75,261.34 200,258.6" fill="#f2f2f2" />
<line x1="196.6" y1="327.64" x2="200.1" y2="327.64" stroke="#333" stroke-width="0.8" />
<line x1="196.6" y1="323.97" x2="198.8" y2="323.97" stroke="#333" stroke-width="0.8" />
<line x1="196.6" y1="320.87" x2="198.8" y2="320.87" stroke="#333" stroke-width="0.8" />
<line x1="196.6" y1="318.19" x2="198.8" y2="318.19" stroke="#333" stroke-width="0.8" />
<line x1="196.6" y1="315.82" x2="198.8" y2="315.82" stroke="#333" stroke-width="0.8" />
<line x1="194.4" y1="313.7" x2="202.2" y2="313.7" stroke="#333" stroke-width="0.9" />
<line x1="196.6" y1="299.76" x2="198.8" y2="299.76" stroke="#333" stroke-width="0.8" />
<line x1="194.6" y1="291.61" x2="198.6" y2="291.61" stroke="#888" stroke-width="0.8" />
<line x1="196.6" y1="285.82" x2="198.8" y2="285.82" stroke="#333" stroke-width="0.8" />
<line x1="196.6" y1="281.34" x2="200.1" y2="281.34" stroke="#333" stroke-width="0.8" />
<line x1="196.6" y1="277.67" x2="198.8" y2="277.67" stroke="#333" stroke-width="0.8" />
<line x1="196.6" y1="274.57" x2="198.8" y2="274.57" stroke="#333" stroke-width="0.8" />
<line x1="196.6" y1="271.89" x2="198.8" y2="271.89" stroke="#333" stroke-width="0.8" />
<line x1="196.6" y1="269.52" x2="198.8" y2="269.52" stroke="#333" stroke-width="0.8" />
<line x1="194.4" y1="267.4" x2="202.2" y2="267.4" stroke="#333" stroke-width="0.9" />
<line x1="196.6" y1="253.46" x2="198.8" y2="253.46" stroke="#333" stroke-width="0.8" />
<line x1="194.6" y1="245.31" x2="198.6" y2="245.31" stroke="#888" stroke-width="0.8" />
<line x1="196.6" y1="239.52" x2="198.8" y2="239.52" stroke="#333" stroke-width="0.8" />
<line x1="196.6" y1="235.04" x2="200.1" y2="235.04" stroke="#333" stroke-width="0.8" />
<line x1="196.6" y1="234.6" x2="196.6" y2="332.2" stroke="#3a3a3a" stroke-width="1.1" />
<text x="192.6" y="249.01" font-size="8.4" text-anchor="end" fill="#231f20" textLength="21.4" lengthAdjust="spacingAndGlyphs" >3e+07</text>
<text x="192.6" y="271.1" font-size="8.4" text-anchor="end" fill="#231f20" textLength="21.4" lengthAdjust="spacingAndGlyphs" >1e+07</text>
<text x="192.6" y="295.31" font-size="8.4" text-anchor="end" fill="#231f20" textLength="21.4" lengthAdjust="spacingAndGlyphs" >3e+06</text>
<text x="192.6" y="317.4" font-size="8.4" text-anchor="end" fill="#231f20" textLength="21.4" lengthAdjust="spacingAndGlyphs" >1e+06</text>
<line x1="196.1" y1="331.7" x2="285.4" y2="331.7" stroke="#6a6a6a" stroke-width="1.2" />
<line x1="212.43" y1="331.7" x2="212.43" y2="329.7" stroke="#333" stroke-width="0.8" />
<line x1="219.71" y1="331.7" x2="219.71" y2="329.7" stroke="#333" stroke-width="0.8" />
<line x1="224.87" y1="331.7" x2="224.87" y2="329.7" stroke="#333" stroke-width="0.8" />
<line x1="228.87" y1="331.7" x2="228.87" y2="328.9" stroke="#333" stroke-width="0.8" />
<line x1="232.14" y1="331.7" x2="232.14" y2="329.7" stroke="#333" stroke-width="0.8" />
<line x1="234.9" y1="331.7" x2="234.9" y2="329.7" stroke="#333" stroke-width="0.8" />
<line x1="237.3" y1="331.7" x2="237.3" y2="329.7" stroke="#333" stroke-width="0.8" />
<line x1="239.41" y1="331.7" x2="239.41" y2="329.7" stroke="#333" stroke-width="0.8" />
<line x1="253.73" y1="331.7" x2="253.73" y2="329.7" stroke="#333" stroke-width="0.8" />
<line x1="261.01" y1="331.7" x2="261.01" y2="329.7" stroke="#333" stroke-width="0.8" />
<line x1="266.17" y1="331.7" x2="266.17" y2="329.7" stroke="#333" stroke-width="0.8" />
<line x1="270.17" y1="331.7" x2="270.17" y2="328.9" stroke="#333" stroke-width="0.8" />
<line x1="273.44" y1="331.7" x2="273.44" y2="329.7" stroke="#333" stroke-width="0.8" />
<line x1="276.2" y1="331.7" x2="276.2" y2="329.7" stroke="#333" stroke-width="0.8" />
<line x1="278.6" y1="331.7" x2="278.6" y2="329.7" stroke="#333" stroke-width="0.8" />
<line x1="280.71" y1="331.7" x2="280.71" y2="329.7" stroke="#333" stroke-width="0.8" />
<line x1="200" y1="326.9" x2="200" y2="333.5" stroke="#333" stroke-width="0.9" />
<text x="200" y="341.8" font-size="7.6" text-anchor="middle" fill="#231f20" >100</text>
<line x1="241.3" y1="326.9" x2="241.3" y2="333.5" stroke="#333" stroke-width="0.9" />
<text x="241.3" y="341.8" font-size="7.6" text-anchor="middle" fill="#231f20" >10</text>
<line x1="282.6" y1="326.9" x2="282.6" y2="333.5" stroke="#333" stroke-width="0.9" />
<text x="282.6" y="341.8" font-size="7.6" text-anchor="middle" fill="#231f20" >1</text>
<circle cx="200" cy="252.4" r="2.8" fill="#8f8f8f" />
<circle cx="212.1" cy="266.1" r="2.8" fill="#8f8f8f" />
<circle cx="224.7" cy="270.6" r="2.8" fill="#8f8f8f" />
<circle cx="236.9" cy="286.1" r="2.8" fill="#8f8f8f" />
<circle cx="249.4" cy="298" r="2.8" fill="#8f8f8f" />
<circle cx="262.2" cy="304.1" r="2.8" fill="#8f8f8f" />
<circle cx="275.1" cy="312.6" r="2.8" fill="#8f8f8f" />
<line x1="200" y1="254.13" x2="275.1" y2="314.98" stroke="#ee1c25" stroke-width="1.3" stroke-dasharray="4,3.9" />
<text x="220.2" y="249.8" font-size="10.6" text-anchor="start" fill="#231f20" font-style="italic">R</text>
<text x="228.6" y="244.4" font-size="6.9" text-anchor="start" fill="#231f20" >2</text>
<text x="234.2" y="249.8" font-size="10.5" text-anchor="start" fill="#231f20" textLength="26.83" lengthAdjust="spacingAndGlyphs" >= 0.99</text>
<polygon points="331.1,267.67 334.83,270.44 338.56,273.19 342.29,275.93 346.02,278.63 349.75,281.3 353.48,283.92 357.21,286.49 360.94,289 364.67,291.43 368.4,293.78 372.13,296.05 375.86,298.23 379.59,300.34 383.32,302.39 387.05,304.39 390.78,306.35 394.51,308.27 398.24,310.16 401.97,312.03 405.7,313.88 405.7,327.41 401.97,324.64 398.24,321.89 394.51,319.15 390.78,316.45 387.05,313.78 383.32,311.15 379.59,308.57 375.86,306.06 372.13,303.62 368.4,301.26 364.67,298.99 360.94,296.79 357.21,294.68 353.48,292.62 349.75,290.62 346.02,288.66 342.29,286.74 338.56,284.84 334.83,282.97 331.1,281.12" fill="#f2f2f2" />
<line x1="327.1" y1="327.87" x2="330.6" y2="327.87" stroke="#333" stroke-width="0.8" />
<line x1="327.1" y1="324.19" x2="329.3" y2="324.19" stroke="#333" stroke-width="0.8" />
<line x1="327.1" y1="321.09" x2="329.3" y2="321.09" stroke="#333" stroke-width="0.8" />
<line x1="327.1" y1="318.4" x2="329.3" y2="318.4" stroke="#333" stroke-width="0.8" />
<line x1="327.1" y1="316.02" x2="329.3" y2="316.02" stroke="#333" stroke-width="0.8" />
<line x1="324.9" y1="313.9" x2="332.7" y2="313.9" stroke="#333" stroke-width="0.9" />
<line x1="327.1" y1="299.93" x2="329.3" y2="299.93" stroke="#333" stroke-width="0.8" />
<line x1="325.1" y1="291.76" x2="329.1" y2="291.76" stroke="#888" stroke-width="0.8" />
<line x1="327.1" y1="285.96" x2="329.3" y2="285.96" stroke="#333" stroke-width="0.8" />
<line x1="327.1" y1="281.47" x2="330.6" y2="281.47" stroke="#333" stroke-width="0.8" />
<line x1="327.1" y1="277.79" x2="329.3" y2="277.79" stroke="#333" stroke-width="0.8" />
<line x1="327.1" y1="274.69" x2="329.3" y2="274.69" stroke="#333" stroke-width="0.8" />
<line x1="327.1" y1="272" x2="329.3" y2="272" stroke="#333" stroke-width="0.8" />
<line x1="327.1" y1="269.62" x2="329.3" y2="269.62" stroke="#333" stroke-width="0.8" />
<line x1="324.9" y1="267.5" x2="332.7" y2="267.5" stroke="#333" stroke-width="0.9" />
<line x1="327.1" y1="253.53" x2="329.3" y2="253.53" stroke="#333" stroke-width="0.8" />
<line x1="325.1" y1="245.36" x2="329.1" y2="245.36" stroke="#888" stroke-width="0.8" />
<line x1="327.1" y1="239.56" x2="329.3" y2="239.56" stroke="#333" stroke-width="0.8" />
<line x1="327.1" y1="235.07" x2="330.6" y2="235.07" stroke="#333" stroke-width="0.8" />
<line x1="327.1" y1="234.6" x2="327.1" y2="332.2" stroke="#8a8a8a" stroke-width="1.1" />
<text x="323.1" y="249.06" font-size="8.4" text-anchor="end" fill="#231f20" textLength="21.4" lengthAdjust="spacingAndGlyphs" >3e+07</text>
<text x="323.1" y="271.2" font-size="8.4" text-anchor="end" fill="#231f20" textLength="21.4" lengthAdjust="spacingAndGlyphs" >1e+07</text>
<text x="323.1" y="295.46" font-size="8.4" text-anchor="end" fill="#231f20" textLength="21.4" lengthAdjust="spacingAndGlyphs" >3e+06</text>
<text x="323.1" y="317.6" font-size="8.4" text-anchor="end" fill="#231f20" textLength="21.4" lengthAdjust="spacingAndGlyphs" >1e+06</text>
<line x1="326.6" y1="331.7" x2="417" y2="331.7" stroke="#666666" stroke-width="1.2" />
<line x1="343.52" y1="331.7" x2="343.52" y2="329.7" stroke="#333" stroke-width="0.8" />
<line x1="350.78" y1="331.7" x2="350.78" y2="329.7" stroke="#333" stroke-width="0.8" />
<line x1="355.93" y1="331.7" x2="355.93" y2="329.7" stroke="#333" stroke-width="0.8" />
<line x1="359.93" y1="331.7" x2="359.93" y2="328.9" stroke="#333" stroke-width="0.8" />
<line x1="363.2" y1="331.7" x2="363.2" y2="329.7" stroke="#333" stroke-width="0.8" />
<line x1="365.96" y1="331.7" x2="365.96" y2="329.7" stroke="#333" stroke-width="0.8" />
<line x1="368.35" y1="331.7" x2="368.35" y2="329.7" stroke="#333" stroke-width="0.8" />
<line x1="370.46" y1="331.7" x2="370.46" y2="329.7" stroke="#333" stroke-width="0.8" />
<line x1="384.77" y1="331.7" x2="384.77" y2="329.7" stroke="#333" stroke-width="0.8" />
<line x1="392.03" y1="331.7" x2="392.03" y2="329.7" stroke="#333" stroke-width="0.8" />
<line x1="397.18" y1="331.7" x2="397.18" y2="329.7" stroke="#333" stroke-width="0.8" />
<line x1="401.18" y1="331.7" x2="401.18" y2="328.9" stroke="#333" stroke-width="0.8" />
<line x1="404.45" y1="331.7" x2="404.45" y2="329.7" stroke="#333" stroke-width="0.8" />
<line x1="407.21" y1="331.7" x2="407.21" y2="329.7" stroke="#333" stroke-width="0.8" />
<line x1="409.6" y1="331.7" x2="409.6" y2="329.7" stroke="#333" stroke-width="0.8" />
<line x1="411.71" y1="331.7" x2="411.71" y2="329.7" stroke="#333" stroke-width="0.8" />
<line x1="331.1" y1="326.9" x2="331.1" y2="333.5" stroke="#333" stroke-width="0.9" />
<text x="331.1" y="341.8" font-size="7.6" text-anchor="middle" fill="#231f20" >100</text>
<line x1="372.35" y1="326.9" x2="372.35" y2="333.5" stroke="#333" stroke-width="0.9" />
<text x="372.35" y="341.8" font-size="7.6" text-anchor="middle" fill="#231f20" >10</text>
<line x1="413.6" y1="326.9" x2="413.6" y2="333.5" stroke="#333" stroke-width="0.9" />
<text x="413.6" y="341.8" font-size="7.6" text-anchor="middle" fill="#231f20" >1</text>
<circle cx="331.1" cy="269.9" r="2.8" fill="#8f8f8f" />
<circle cx="343.3" cy="281.9" r="2.8" fill="#8f8f8f" />
<circle cx="355.6" cy="293.5" r="2.8" fill="#8f8f8f" />
<circle cx="368.2" cy="298.5" r="2.8" fill="#8f8f8f" />
<circle cx="380.8" cy="309.9" r="2.8" fill="#8f8f8f" />
<circle cx="392.9" cy="311.5" r="2.8" fill="#8f8f8f" />
<circle cx="405.7" cy="316.7" r="2.8" fill="#8f8f8f" />
<line x1="331.1" y1="274.39" x2="405.7" y2="320.65" stroke="#ee1c25" stroke-width="1.3" stroke-dasharray="4,3.9" />
<text x="351.5" y="249.8" font-size="10.6" text-anchor="start" fill="#231f20" font-style="italic">R</text>
<text x="359.9" y="244.4" font-size="6.9" text-anchor="start" fill="#231f20" >2</text>
<text x="365.5" y="249.8" font-size="10.5" text-anchor="start" fill="#231f20" textLength="26.83" lengthAdjust="spacingAndGlyphs" >= 0.96</text>
<polygon points="459.3,272.05 463.12,274.63 466.94,277.19 470.76,279.73 474.58,282.23 478.4,284.69 482.22,287.09 486.04,289.43 489.86,291.69 493.68,293.86 497.5,295.93 501.32,297.9 505.14,299.77 508.96,301.54 512.78,303.24 516.6,304.88 520.42,306.46 524.24,308.01 528.06,309.51 531.88,310.99 535.7,312.45 535.7,328.99 531.88,326.41 528.06,323.84 524.24,321.31 520.42,318.81 516.6,316.35 512.78,313.94 508.96,311.59 505.14,309.33 501.32,307.15 497.5,305.08 493.68,303.1 489.86,301.23 486.04,299.45 482.22,297.74 478.4,296.1 474.58,294.51 470.76,292.97 466.94,291.46 463.12,289.98 459.3,288.52" fill="#f2f2f2" />
<line x1="455.4" y1="330.8" x2="458.9" y2="330.8" stroke="#333" stroke-width="0.8" />
<line x1="455.4" y1="327.04" x2="457.6" y2="327.04" stroke="#333" stroke-width="0.8" />
<line x1="455.4" y1="323.86" x2="457.6" y2="323.86" stroke="#333" stroke-width="0.8" />
<line x1="455.4" y1="321.1" x2="457.6" y2="321.1" stroke="#333" stroke-width="0.8" />
<line x1="455.4" y1="318.67" x2="457.6" y2="318.67" stroke="#333" stroke-width="0.8" />
<line x1="453.2" y1="316.5" x2="461" y2="316.5" stroke="#333" stroke-width="0.9" />
<line x1="455.4" y1="302.2" x2="457.6" y2="302.2" stroke="#333" stroke-width="0.8" />
<line x1="453.4" y1="293.84" x2="457.4" y2="293.84" stroke="#888" stroke-width="0.8" />
<line x1="455.4" y1="287.9" x2="457.6" y2="287.9" stroke="#333" stroke-width="0.8" />
<line x1="455.4" y1="283.3" x2="458.9" y2="283.3" stroke="#333" stroke-width="0.8" />
<line x1="455.4" y1="279.54" x2="457.6" y2="279.54" stroke="#333" stroke-width="0.8" />
<line x1="455.4" y1="276.36" x2="457.6" y2="276.36" stroke="#333" stroke-width="0.8" />
<line x1="455.4" y1="273.6" x2="457.6" y2="273.6" stroke="#333" stroke-width="0.8" />
<line x1="455.4" y1="271.17" x2="457.6" y2="271.17" stroke="#333" stroke-width="0.8" />
<line x1="453.2" y1="269" x2="461" y2="269" stroke="#333" stroke-width="0.9" />
<line x1="455.4" y1="254.7" x2="457.6" y2="254.7" stroke="#333" stroke-width="0.8" />
<line x1="453.4" y1="246.34" x2="457.4" y2="246.34" stroke="#888" stroke-width="0.8" />
<line x1="455.4" y1="240.4" x2="457.6" y2="240.4" stroke="#333" stroke-width="0.8" />
<line x1="455.4" y1="235.8" x2="458.9" y2="235.8" stroke="#333" stroke-width="0.8" />
<line x1="455.4" y1="234.6" x2="455.4" y2="335.4" stroke="#3a3a3a" stroke-width="1.1" />
<text x="451.4" y="250.04" font-size="8.4" text-anchor="end" fill="#231f20" textLength="21.4" lengthAdjust="spacingAndGlyphs" >3e+07</text>
<text x="451.4" y="272.7" font-size="8.4" text-anchor="end" fill="#231f20" textLength="21.4" lengthAdjust="spacingAndGlyphs" >1e+07</text>
<text x="451.4" y="297.54" font-size="8.4" text-anchor="end" fill="#231f20" textLength="21.4" lengthAdjust="spacingAndGlyphs" >3e+06</text>
<text x="451.4" y="320.2" font-size="8.4" text-anchor="end" fill="#231f20" textLength="21.4" lengthAdjust="spacingAndGlyphs" >1e+06</text>
<line x1="454.9" y1="334.9" x2="547.6" y2="334.9" stroke="#8a8a8a" stroke-width="1.2" />
<line x1="472.19" y1="334.9" x2="472.19" y2="332.9" stroke="#333" stroke-width="0.8" />
<line x1="479.68" y1="334.9" x2="479.68" y2="332.9" stroke="#333" stroke-width="0.8" />
<line x1="484.99" y1="334.9" x2="484.99" y2="332.9" stroke="#333" stroke-width="0.8" />
<line x1="489.11" y1="334.9" x2="489.11" y2="332.1" stroke="#333" stroke-width="0.8" />
<line x1="492.47" y1="334.9" x2="492.47" y2="332.9" stroke="#333" stroke-width="0.8" />
<line x1="495.32" y1="334.9" x2="495.32" y2="332.9" stroke="#333" stroke-width="0.8" />
<line x1="497.78" y1="334.9" x2="497.78" y2="332.9" stroke="#333" stroke-width="0.8" />
<line x1="499.96" y1="334.9" x2="499.96" y2="332.9" stroke="#333" stroke-width="0.8" />
<line x1="514.69" y1="334.9" x2="514.69" y2="332.9" stroke="#333" stroke-width="0.8" />
<line x1="522.18" y1="334.9" x2="522.18" y2="332.9" stroke="#333" stroke-width="0.8" />
<line x1="527.49" y1="334.9" x2="527.49" y2="332.9" stroke="#333" stroke-width="0.8" />
<line x1="531.61" y1="334.9" x2="531.61" y2="332.1" stroke="#333" stroke-width="0.8" />
<line x1="534.97" y1="334.9" x2="534.97" y2="332.9" stroke="#333" stroke-width="0.8" />
<line x1="537.82" y1="334.9" x2="537.82" y2="332.9" stroke="#333" stroke-width="0.8" />
<line x1="540.28" y1="334.9" x2="540.28" y2="332.9" stroke="#333" stroke-width="0.8" />
<line x1="542.46" y1="334.9" x2="542.46" y2="332.9" stroke="#333" stroke-width="0.8" />
<line x1="459.4" y1="330.1" x2="459.4" y2="336.7" stroke="#333" stroke-width="0.9" />
<text x="459.4" y="345" font-size="7.6" text-anchor="middle" fill="#231f20" >100</text>
<line x1="501.9" y1="330.1" x2="501.9" y2="336.7" stroke="#333" stroke-width="0.9" />
<text x="501.9" y="345" font-size="7.6" text-anchor="middle" fill="#231f20" >10</text>
<line x1="544.4" y1="330.1" x2="544.4" y2="336.7" stroke="#333" stroke-width="0.9" />
<text x="544.4" y="345" font-size="7.6" text-anchor="middle" fill="#231f20" >1</text>
<circle cx="459.3" cy="274.9" r="2.8" fill="#8f8f8f" />
<circle cx="472.1" cy="287.9" r="2.8" fill="#8f8f8f" />
<circle cx="484.7" cy="297.6" r="2.8" fill="#8f8f8f" />
<circle cx="497.1" cy="301.4" r="2.8" fill="#8f8f8f" />
<circle cx="509.9" cy="311.5" r="2.8" fill="#8f8f8f" />
<circle cx="522.9" cy="314.2" r="2.8" fill="#8f8f8f" />
<circle cx="535.7" cy="315.6" r="2.8" fill="#8f8f8f" />
<line x1="459.3" y1="280.28" x2="535.7" y2="320.72" stroke="#ee1c25" stroke-width="1.3" stroke-dasharray="4,3.9" />
<text x="479.9" y="250.8" font-size="10.6" text-anchor="start" fill="#231f20" font-style="italic">R</text>
<text x="488.3" y="245.4" font-size="6.9" text-anchor="start" fill="#231f20" >2</text>
<text x="493.9" y="250.8" font-size="10.5" text-anchor="start" fill="#231f20" textLength="26.83" lengthAdjust="spacingAndGlyphs" >= 0.93</text>
<polygon points="587.7,293.45 591.55,294.91 595.39,296.36 599.24,297.8 603.08,299.23 606.93,300.63 610.77,302.01 614.62,303.36 618.46,304.67 622.31,305.95 626.15,307.18 630,308.36 633.84,309.5 637.69,310.59 641.53,311.66 645.38,312.69 649.22,313.7 653.07,314.69 656.91,315.66 660.75,316.63 664.6,317.58 664.6,325.09 660.75,323.63 656.91,322.17 653.07,320.73 649.22,319.31 645.38,317.9 641.53,316.52 637.69,315.16 633.84,313.85 630,312.57 626.15,311.33 622.31,310.15 618.46,309.01 614.62,307.91 610.77,306.84 606.93,305.81 603.08,304.79 599.24,303.8 595.39,302.83 591.55,301.86 587.7,300.91" fill="#f2f2f2" />
<line x1="583.9" y1="330.9" x2="587.4" y2="330.9" stroke="#333" stroke-width="0.8" />
<line x1="583.9" y1="327.14" x2="586.1" y2="327.14" stroke="#333" stroke-width="0.8" />
<line x1="583.9" y1="323.96" x2="586.1" y2="323.96" stroke="#333" stroke-width="0.8" />
<line x1="583.9" y1="321.2" x2="586.1" y2="321.2" stroke="#333" stroke-width="0.8" />
<line x1="583.9" y1="318.77" x2="586.1" y2="318.77" stroke="#333" stroke-width="0.8" />
<line x1="581.7" y1="316.6" x2="589.5" y2="316.6" stroke="#333" stroke-width="0.9" />
<line x1="583.9" y1="302.3" x2="586.1" y2="302.3" stroke="#333" stroke-width="0.8" />
<line x1="581.9" y1="293.94" x2="585.9" y2="293.94" stroke="#888" stroke-width="0.8" />
<line x1="583.9" y1="288" x2="586.1" y2="288" stroke="#333" stroke-width="0.8" />
<line x1="583.9" y1="283.4" x2="587.4" y2="283.4" stroke="#333" stroke-width="0.8" />
<line x1="583.9" y1="279.64" x2="586.1" y2="279.64" stroke="#333" stroke-width="0.8" />
<line x1="583.9" y1="276.46" x2="586.1" y2="276.46" stroke="#333" stroke-width="0.8" />
<line x1="583.9" y1="273.7" x2="586.1" y2="273.7" stroke="#333" stroke-width="0.8" />
<line x1="583.9" y1="271.27" x2="586.1" y2="271.27" stroke="#333" stroke-width="0.8" />
<line x1="581.7" y1="269.1" x2="589.5" y2="269.1" stroke="#333" stroke-width="0.9" />
<line x1="583.9" y1="254.8" x2="586.1" y2="254.8" stroke="#333" stroke-width="0.8" />
<line x1="581.9" y1="246.44" x2="585.9" y2="246.44" stroke="#888" stroke-width="0.8" />
<line x1="583.9" y1="240.5" x2="586.1" y2="240.5" stroke="#333" stroke-width="0.8" />
<line x1="583.9" y1="235.9" x2="587.4" y2="235.9" stroke="#333" stroke-width="0.8" />
<line x1="583.9" y1="234.6" x2="583.9" y2="335.5" stroke="#8a8a8a" stroke-width="1.1" />
<text x="579.9" y="250.14" font-size="8.4" text-anchor="end" fill="#231f20" textLength="21.4" lengthAdjust="spacingAndGlyphs" >3e+07</text>
<text x="579.9" y="272.8" font-size="8.4" text-anchor="end" fill="#231f20" textLength="21.4" lengthAdjust="spacingAndGlyphs" >1e+07</text>
<text x="579.9" y="297.64" font-size="8.4" text-anchor="end" fill="#231f20" textLength="21.4" lengthAdjust="spacingAndGlyphs" >3e+06</text>
<text x="579.9" y="320.3" font-size="8.4" text-anchor="end" fill="#231f20" textLength="21.4" lengthAdjust="spacingAndGlyphs" >1e+06</text>
<line x1="583.4" y1="335" x2="676.8" y2="335" stroke="#8a8a8a" stroke-width="1.2" />
<line x1="600.45" y1="335" x2="600.45" y2="333" stroke="#333" stroke-width="0.8" />
<line x1="607.91" y1="335" x2="607.91" y2="333" stroke="#333" stroke-width="0.8" />
<line x1="613.2" y1="335" x2="613.2" y2="333" stroke="#333" stroke-width="0.8" />
<line x1="617.3" y1="335" x2="617.3" y2="332.2" stroke="#333" stroke-width="0.8" />
<line x1="620.65" y1="335" x2="620.65" y2="333" stroke="#333" stroke-width="0.8" />
<line x1="623.49" y1="335" x2="623.49" y2="333" stroke="#333" stroke-width="0.8" />
<line x1="625.95" y1="335" x2="625.95" y2="333" stroke="#333" stroke-width="0.8" />
<line x1="628.11" y1="335" x2="628.11" y2="333" stroke="#333" stroke-width="0.8" />
<line x1="642.8" y1="335" x2="642.8" y2="333" stroke="#333" stroke-width="0.8" />
<line x1="650.26" y1="335" x2="650.26" y2="333" stroke="#333" stroke-width="0.8" />
<line x1="655.55" y1="335" x2="655.55" y2="333" stroke="#333" stroke-width="0.8" />
<line x1="659.65" y1="335" x2="659.65" y2="332.2" stroke="#333" stroke-width="0.8" />
<line x1="663" y1="335" x2="663" y2="333" stroke="#333" stroke-width="0.8" />
<line x1="665.84" y1="335" x2="665.84" y2="333" stroke="#333" stroke-width="0.8" />
<line x1="668.3" y1="335" x2="668.3" y2="333" stroke="#333" stroke-width="0.8" />
<line x1="670.46" y1="335" x2="670.46" y2="333" stroke="#333" stroke-width="0.8" />
<line x1="587.7" y1="330.2" x2="587.7" y2="336.8" stroke="#333" stroke-width="0.9" />
<text x="587.7" y="345.1" font-size="7.6" text-anchor="middle" fill="#231f20" >100</text>
<line x1="630.05" y1="330.2" x2="630.05" y2="336.8" stroke="#333" stroke-width="0.9" />
<text x="630.05" y="345.1" font-size="7.6" text-anchor="middle" fill="#231f20" >10</text>
<line x1="672.4" y1="330.2" x2="672.4" y2="336.8" stroke="#333" stroke-width="0.9" />
<text x="672.4" y="345.1" font-size="7.6" text-anchor="middle" fill="#231f20" >1</text>
<circle cx="587.7" cy="295.3" r="2.8" fill="#8f8f8f" />
<circle cx="600.1" cy="302.5" r="2.8" fill="#8f8f8f" />
<circle cx="613.1" cy="304.8" r="2.8" fill="#8f8f8f" />
<circle cx="625.9" cy="310.4" r="2.8" fill="#8f8f8f" />
<circle cx="638.7" cy="314.2" r="2.8" fill="#8f8f8f" />
<circle cx="651.7" cy="317.1" r="2.8" fill="#8f8f8f" />
<circle cx="664.6" cy="320.1" r="2.8" fill="#8f8f8f" />
<line x1="587.7" y1="297.18" x2="664.6" y2="321.33" stroke="#ee1c25" stroke-width="1.3" stroke-dasharray="4,3.9" />
<text x="608.9" y="249.9" font-size="10.6" text-anchor="start" fill="#231f20" font-style="italic">R</text>
<text x="617.3" y="244.5" font-size="6.9" text-anchor="start" fill="#231f20" >2</text>
<text x="622.9" y="249.9" font-size="10.5" text-anchor="start" fill="#231f20" textLength="26.83" lengthAdjust="spacingAndGlyphs" >= 0.98</text>
<line x1="222.7" y1="392.3" x2="222.7" y2="510.9" stroke="#7a7a7a" stroke-width="1.0" />
<line x1="222.2" y1="510.4" x2="356.9" y2="510.4" stroke="#5a5a5a" stroke-width="1.0" />
<line x1="221.1" y1="505.2" x2="226.7" y2="505.2" stroke="#3a3a3a" stroke-width="0.8" />
<line x1="222.7" y1="489.03" x2="224.7" y2="489.03" stroke="#777" stroke-width="0.7" />
<line x1="222.7" y1="479.58" x2="224.7" y2="479.58" stroke="#777" stroke-width="0.7" />
<line x1="222.7" y1="472.87" x2="224.7" y2="472.87" stroke="#777" stroke-width="0.7" />
<line x1="222.7" y1="467.67" x2="224.7" y2="467.67" stroke="#777" stroke-width="0.7" />
<line x1="222.7" y1="463.41" x2="224.7" y2="463.41" stroke="#777" stroke-width="0.7" />
<line x1="222.7" y1="459.82" x2="224.7" y2="459.82" stroke="#777" stroke-width="0.7" />
<line x1="222.7" y1="456.7" x2="224.7" y2="456.7" stroke="#777" stroke-width="0.7" />
<line x1="222.7" y1="453.96" x2="224.7" y2="453.96" stroke="#777" stroke-width="0.7" />
<line x1="221.1" y1="451.5" x2="226.7" y2="451.5" stroke="#3a3a3a" stroke-width="0.8" />
<line x1="222.7" y1="435.33" x2="224.7" y2="435.33" stroke="#777" stroke-width="0.7" />
<line x1="222.7" y1="425.88" x2="224.7" y2="425.88" stroke="#777" stroke-width="0.7" />
<line x1="222.7" y1="419.17" x2="224.7" y2="419.17" stroke="#777" stroke-width="0.7" />
<line x1="222.7" y1="413.97" x2="224.7" y2="413.97" stroke="#777" stroke-width="0.7" />
<line x1="222.7" y1="409.71" x2="224.7" y2="409.71" stroke="#777" stroke-width="0.7" />
<line x1="222.7" y1="406.12" x2="224.7" y2="406.12" stroke="#777" stroke-width="0.7" />
<line x1="222.7" y1="403" x2="224.7" y2="403" stroke="#777" stroke-width="0.7" />
<line x1="222.7" y1="400.26" x2="224.7" y2="400.26" stroke="#777" stroke-width="0.7" />
<line x1="221.1" y1="397.8" x2="226.7" y2="397.8" stroke="#3a3a3a" stroke-width="0.8" />
<line x1="221.1" y1="397.8" x2="226.7" y2="397.8" stroke="#3a3a3a" stroke-width="0.8" />
<text x="219.8" y="400.25" font-size="6.8" text-anchor="end" fill="#231f20" textLength="16.45" lengthAdjust="spacingAndGlyphs" >10000</text>
<line x1="221.1" y1="451.5" x2="226.7" y2="451.5" stroke="#3a3a3a" stroke-width="0.8" />
<text x="219.8" y="453.95" font-size="6.8" text-anchor="end" fill="#231f20" textLength="13.16" lengthAdjust="spacingAndGlyphs" >1000</text>
<line x1="221.1" y1="505.2" x2="226.7" y2="505.2" stroke="#3a3a3a" stroke-width="0.8" />
<text x="219.8" y="507.65" font-size="6.8" text-anchor="end" fill="#231f20" textLength="9.87" lengthAdjust="spacingAndGlyphs" >100</text>
<line x1="246.75" y1="510.4" x2="246.75" y2="508.6" stroke="#444" stroke-width="0.75" />
<line x1="257.55" y1="510.4" x2="257.55" y2="508.6" stroke="#444" stroke-width="0.75" />
<line x1="265.21" y1="510.4" x2="265.21" y2="508.6" stroke="#444" stroke-width="0.75" />
<line x1="271.15" y1="510.4" x2="271.15" y2="508.2" stroke="#444" stroke-width="0.75" />
<line x1="276" y1="510.4" x2="276" y2="508.6" stroke="#444" stroke-width="0.75" />
<line x1="280.1" y1="510.4" x2="280.1" y2="508.6" stroke="#444" stroke-width="0.75" />
<line x1="283.66" y1="510.4" x2="283.66" y2="508.6" stroke="#444" stroke-width="0.75" />
<line x1="286.8" y1="510.4" x2="286.8" y2="508.6" stroke="#444" stroke-width="0.75" />
<line x1="308.05" y1="510.4" x2="308.05" y2="508.6" stroke="#444" stroke-width="0.75" />
<line x1="318.85" y1="510.4" x2="318.85" y2="508.6" stroke="#444" stroke-width="0.75" />
<line x1="326.51" y1="510.4" x2="326.51" y2="508.6" stroke="#444" stroke-width="0.75" />
<line x1="332.45" y1="510.4" x2="332.45" y2="508.2" stroke="#444" stroke-width="0.75" />
<line x1="337.3" y1="510.4" x2="337.3" y2="508.6" stroke="#444" stroke-width="0.75" />
<line x1="341.4" y1="510.4" x2="341.4" y2="508.6" stroke="#444" stroke-width="0.75" />
<line x1="344.96" y1="510.4" x2="344.96" y2="508.6" stroke="#444" stroke-width="0.75" />
<line x1="348.1" y1="510.4" x2="348.1" y2="508.6" stroke="#444" stroke-width="0.75" />
<line x1="228.3" y1="506.9" x2="228.3" y2="511.9" stroke="#3a3a3a" stroke-width="0.8" />
<text x="228.3" y="518.2" font-size="6.8" text-anchor="middle" fill="#231f20" textLength="9.87" lengthAdjust="spacingAndGlyphs" >100</text>
<line x1="289.6" y1="506.9" x2="289.6" y2="511.9" stroke="#3a3a3a" stroke-width="0.8" />
<text x="289.6" y="518.2" font-size="6.8" text-anchor="middle" fill="#231f20" textLength="6.58" lengthAdjust="spacingAndGlyphs" >10</text>
<line x1="350.9" y1="506.9" x2="350.9" y2="511.9" stroke="#3a3a3a" stroke-width="0.8" />
<text x="350.9" y="518.2" font-size="6.8" text-anchor="middle" fill="#231f20" textLength="3.29" lengthAdjust="spacingAndGlyphs" >1</text>
<text transform="translate(193,452) rotate(-90)" font-size="7.4" text-anchor="middle" fill="#231f20" textLength="37.3" lengthAdjust="spacingAndGlyphs">ERF BV421</text>
<text x="266.1" y="413.8" font-size="8.2" text-anchor="start" fill="#231f20" textLength="51.1" lengthAdjust="spacingAndGlyphs" >Slope = 0.0054</text>
<text x="234.9" y="532.7" font-size="8.0" text-anchor="start" fill="#231f20" textLength="113.2" lengthAdjust="spacingAndGlyphs" >% HLA-A3+ Platelet-Poor Plasma</text>
<line x1="391.8" y1="392" x2="391.8" y2="510.8" stroke="#7a7a7a" stroke-width="1.0" />
<line x1="391.3" y1="510.3" x2="532.5" y2="510.3" stroke="#5a5a5a" stroke-width="1.0" />
<line x1="390.2" y1="505.3" x2="395.8" y2="505.3" stroke="#3a3a3a" stroke-width="0.8" />
<line x1="391.8" y1="472.82" x2="393.8" y2="472.82" stroke="#777" stroke-width="0.7" />
<line x1="391.8" y1="453.82" x2="393.8" y2="453.82" stroke="#777" stroke-width="0.7" />
<line x1="391.8" y1="440.34" x2="393.8" y2="440.34" stroke="#777" stroke-width="0.7" />
<line x1="391.8" y1="429.88" x2="393.8" y2="429.88" stroke="#777" stroke-width="0.7" />
<line x1="391.8" y1="421.34" x2="393.8" y2="421.34" stroke="#777" stroke-width="0.7" />
<line x1="391.8" y1="414.11" x2="393.8" y2="414.11" stroke="#777" stroke-width="0.7" />
<line x1="391.8" y1="407.86" x2="393.8" y2="407.86" stroke="#777" stroke-width="0.7" />
<line x1="391.8" y1="402.34" x2="393.8" y2="402.34" stroke="#777" stroke-width="0.7" />
<line x1="390.2" y1="397.4" x2="395.8" y2="397.4" stroke="#3a3a3a" stroke-width="0.8" />
<line x1="390.2" y1="397.4" x2="395.8" y2="397.4" stroke="#3a3a3a" stroke-width="0.8" />
<text x="388.9" y="399.85" font-size="6.8" text-anchor="end" fill="#231f20" textLength="9.87" lengthAdjust="spacingAndGlyphs" >100</text>
<line x1="390.2" y1="453.82" x2="395.8" y2="453.82" stroke="#3a3a3a" stroke-width="0.8" />
<text x="388.9" y="456.27" font-size="6.8" text-anchor="end" fill="#231f20" textLength="6.58" lengthAdjust="spacingAndGlyphs" >30</text>
<line x1="390.2" y1="505.3" x2="395.8" y2="505.3" stroke="#3a3a3a" stroke-width="0.8" />
<text x="388.9" y="507.75" font-size="6.8" text-anchor="end" fill="#231f20" textLength="6.58" lengthAdjust="spacingAndGlyphs" >10</text>
<line x1="417.33" y1="510.3" x2="417.33" y2="508.5" stroke="#444" stroke-width="0.75" />
<line x1="428.63" y1="510.3" x2="428.63" y2="508.5" stroke="#444" stroke-width="0.75" />
<line x1="436.65" y1="510.3" x2="436.65" y2="508.5" stroke="#444" stroke-width="0.75" />
<line x1="442.87" y1="510.3" x2="442.87" y2="508.1" stroke="#444" stroke-width="0.75" />
<line x1="447.96" y1="510.3" x2="447.96" y2="508.5" stroke="#444" stroke-width="0.75" />
<line x1="452.26" y1="510.3" x2="452.26" y2="508.5" stroke="#444" stroke-width="0.75" />
<line x1="455.98" y1="510.3" x2="455.98" y2="508.5" stroke="#444" stroke-width="0.75" />
<line x1="459.26" y1="510.3" x2="459.26" y2="508.5" stroke="#444" stroke-width="0.75" />
<line x1="481.53" y1="510.3" x2="481.53" y2="508.5" stroke="#444" stroke-width="0.75" />
<line x1="492.83" y1="510.3" x2="492.83" y2="508.5" stroke="#444" stroke-width="0.75" />
<line x1="500.85" y1="510.3" x2="500.85" y2="508.5" stroke="#444" stroke-width="0.75" />
<line x1="507.07" y1="510.3" x2="507.07" y2="508.1" stroke="#444" stroke-width="0.75" />
<line x1="512.16" y1="510.3" x2="512.16" y2="508.5" stroke="#444" stroke-width="0.75" />
<line x1="516.46" y1="510.3" x2="516.46" y2="508.5" stroke="#444" stroke-width="0.75" />
<line x1="520.18" y1="510.3" x2="520.18" y2="508.5" stroke="#444" stroke-width="0.75" />
<line x1="523.46" y1="510.3" x2="523.46" y2="508.5" stroke="#444" stroke-width="0.75" />
<line x1="398" y1="506.8" x2="398" y2="511.8" stroke="#3a3a3a" stroke-width="0.8" />
<text x="398" y="518.1" font-size="6.8" text-anchor="middle" fill="#231f20" textLength="9.87" lengthAdjust="spacingAndGlyphs" >100</text>
<line x1="462.2" y1="506.8" x2="462.2" y2="511.8" stroke="#3a3a3a" stroke-width="0.8" />
<text x="462.2" y="518.1" font-size="6.8" text-anchor="middle" fill="#231f20" textLength="6.58" lengthAdjust="spacingAndGlyphs" >10</text>
<line x1="526.4" y1="506.8" x2="526.4" y2="511.8" stroke="#3a3a3a" stroke-width="0.8" />
<text x="526.4" y="518.1" font-size="6.8" text-anchor="middle" fill="#231f20" textLength="3.29" lengthAdjust="spacingAndGlyphs" >1</text>
<text transform="translate(369,452) rotate(-90)" font-size="7.4" text-anchor="middle" fill="#231f20" textLength="30.3" lengthAdjust="spacingAndGlyphs">ERF APC</text>
<text x="432.7" y="413.8" font-size="8.2" text-anchor="start" fill="#231f20" textLength="51.1" lengthAdjust="spacingAndGlyphs" >Slope = 0.0047</text>
<text x="401" y="532.7" font-size="8.0" text-anchor="start" fill="#231f20" textLength="113.2" lengthAdjust="spacingAndGlyphs" >% HLA-A3+ Platelet-Poor Plasma</text>
<polygon points="228.3,444.08 231,448.78 225.6,448.78" fill="#e69f00" />
<circle cx="228.3" cy="443.5" r="2.3" fill="#8f8f8f" />
<rect x="225.95" y="440.85" width="4.7" height="4.7" fill="#56b4e9" />
<line x1="225" y1="446.4" x2="231.6" y2="446.4" stroke="#3aae8a" stroke-width="0.85" opacity="0.85"/>
<line x1="228.3" y1="443.1" x2="228.3" y2="449.7" stroke="#3aae8a" stroke-width="0.85" opacity="0.85"/>
<polygon points="246.75,444.08 249.45,448.78 244.05,448.78" fill="#e69f00" />
<circle cx="246.75" cy="444" r="2.3" fill="#8f8f8f" />
<rect x="244.4" y="442.15" width="4.7" height="4.7" fill="#56b4e9" />
<line x1="243.45" y1="443.8" x2="250.05" y2="443.8" stroke="#3aae8a" stroke-width="0.85" opacity="0.85"/>
<line x1="246.75" y1="440.5" x2="246.75" y2="447.1" stroke="#3aae8a" stroke-width="0.85" opacity="0.85"/>
<polygon points="265.2,443.78 267.9,448.48 262.5,448.48" fill="#e69f00" />
<circle cx="265.2" cy="441.5" r="2.3" fill="#8f8f8f" />
<rect x="262.85" y="441.95" width="4.7" height="4.7" fill="#56b4e9" />
<line x1="261.9" y1="446.3" x2="268.5" y2="446.3" stroke="#3aae8a" stroke-width="0.85" opacity="0.85"/>
<line x1="265.2" y1="443" x2="265.2" y2="449.6" stroke="#3aae8a" stroke-width="0.85" opacity="0.85"/>
<polygon points="283.65,442.68 286.35,447.38 280.95,447.38" fill="#e69f00" />
<circle cx="283.65" cy="441.8" r="2.3" fill="#8f8f8f" />
<rect x="281.3" y="444.85" width="4.7" height="4.7" fill="#56b4e9" />
<line x1="280.35" y1="446.2" x2="286.95" y2="446.2" stroke="#3aae8a" stroke-width="0.85" opacity="0.85"/>
<line x1="283.65" y1="442.9" x2="283.65" y2="449.5" stroke="#3aae8a" stroke-width="0.85" opacity="0.85"/>
<polygon points="302.1,443.78 304.8,448.48 299.4,448.48" fill="#e69f00" />
<circle cx="302.1" cy="441.2" r="2.3" fill="#8f8f8f" />
<rect x="299.75" y="441.25" width="4.7" height="4.7" fill="#56b4e9" />
<line x1="298.8" y1="445.4" x2="305.4" y2="445.4" stroke="#3aae8a" stroke-width="0.85" opacity="0.85"/>
<line x1="302.1" y1="442.1" x2="302.1" y2="448.7" stroke="#3aae8a" stroke-width="0.85" opacity="0.85"/>
<polygon points="320.55,443.68 323.25,448.38 317.85,448.38" fill="#e69f00" />
<circle cx="320.55" cy="440.2" r="2.3" fill="#8f8f8f" />
<rect x="318.2" y="444.45" width="4.7" height="4.7" fill="#56b4e9" />
<line x1="317.25" y1="443.4" x2="323.85" y2="443.4" stroke="#3aae8a" stroke-width="0.85" opacity="0.85"/>
<line x1="320.55" y1="440.1" x2="320.55" y2="446.7" stroke="#3aae8a" stroke-width="0.85" opacity="0.85"/>
<polygon points="339,444.18 341.7,448.88 336.3,448.88" fill="#e69f00" />
<circle cx="339" cy="443.3" r="2.3" fill="#8f8f8f" />
<rect x="336.65" y="443.55" width="4.7" height="4.7" fill="#56b4e9" />
<line x1="335.7" y1="449.3" x2="342.3" y2="449.3" stroke="#3aae8a" stroke-width="0.85" opacity="0.85"/>
<line x1="339" y1="446" x2="339" y2="452.6" stroke="#3aae8a" stroke-width="0.85" opacity="0.85"/>
<line x1="228" y1="444.4" x2="338" y2="444.4" stroke="#e8202a" stroke-width="1.3" stroke-dasharray="3.0,2.6" />
<rect x="392.5" y="451.8" width="122" height="5.1" fill="#efefef" />
<circle cx="398" cy="458.5" r="2.3" fill="#8f8f8f" />
<polygon points="398,445.18 400.7,449.88 395.3,449.88" fill="#e69f00" />
<rect x="395.65" y="455.05" width="4.7" height="4.7" fill="#56b4e9" />
<line x1="394.7" y1="455.2" x2="401.3" y2="455.2" stroke="#3aae8a" stroke-width="0.85" opacity="0.85"/>
<line x1="398" y1="451.9" x2="398" y2="458.5" stroke="#3aae8a" stroke-width="0.85" opacity="0.85"/>
<circle cx="417.35" cy="453.2" r="2.3" fill="#8f8f8f" />
<polygon points="417.35,443.08 420.05,447.78 414.65,447.78" fill="#e69f00" />
<rect x="415" y="455.95" width="4.7" height="4.7" fill="#56b4e9" />
<line x1="414.05" y1="454.6" x2="420.65" y2="454.6" stroke="#3aae8a" stroke-width="0.85" opacity="0.85"/>
<line x1="417.35" y1="451.3" x2="417.35" y2="457.9" stroke="#3aae8a" stroke-width="0.85" opacity="0.85"/>
<circle cx="436.7" cy="457.3" r="2.3" fill="#8f8f8f" />
<polygon points="436.7,442.18 439.4,446.88 434,446.88" fill="#e69f00" />
<rect x="434.35" y="458.05" width="4.7" height="4.7" fill="#56b4e9" />
<line x1="433.4" y1="460.5" x2="440" y2="460.5" stroke="#3aae8a" stroke-width="0.85" opacity="0.85"/>
<line x1="436.7" y1="457.2" x2="436.7" y2="463.8" stroke="#3aae8a" stroke-width="0.85" opacity="0.85"/>
<circle cx="456.05" cy="455.5" r="2.3" fill="#8f8f8f" />
<polygon points="456.05,442.18 458.75,446.88 453.35,446.88" fill="#e69f00" />
<rect x="453.7" y="451.85" width="4.7" height="4.7" fill="#56b4e9" />
<line x1="452.75" y1="457" x2="459.35" y2="457" stroke="#3aae8a" stroke-width="0.85" opacity="0.85"/>
<line x1="456.05" y1="453.7" x2="456.05" y2="460.3" stroke="#3aae8a" stroke-width="0.85" opacity="0.85"/>
<circle cx="475.4" cy="459.3" r="2.3" fill="#8f8f8f" />
<polygon points="475.4,447.28 478.1,451.98 472.7,451.98" fill="#e69f00" />
<rect x="473.05" y="454.15" width="4.7" height="4.7" fill="#56b4e9" />
<line x1="472.1" y1="460" x2="478.7" y2="460" stroke="#3aae8a" stroke-width="0.85" opacity="0.85"/>
<line x1="475.4" y1="456.7" x2="475.4" y2="463.3" stroke="#3aae8a" stroke-width="0.85" opacity="0.85"/>
<circle cx="494.75" cy="458.6" r="2.3" fill="#8f8f8f" />
<polygon points="494.75,446.68 497.45,451.38 492.05,451.38" fill="#e69f00" />
<rect x="492.4" y="449.85" width="4.7" height="4.7" fill="#56b4e9" />
<line x1="491.45" y1="459.5" x2="498.05" y2="459.5" stroke="#3aae8a" stroke-width="0.85" opacity="0.85"/>
<line x1="494.75" y1="456.2" x2="494.75" y2="462.8" stroke="#3aae8a" stroke-width="0.85" opacity="0.85"/>
<circle cx="514.1" cy="457" r="2.3" fill="#8f8f8f" />
<polygon points="514.1,441.78 516.8,446.48 511.4,446.48" fill="#e69f00" />
<rect x="511.75" y="446.35" width="4.7" height="4.7" fill="#56b4e9" />
<line x1="510.8" y1="456" x2="517.4" y2="456" stroke="#3aae8a" stroke-width="0.85" opacity="0.85"/>
<line x1="514.1" y1="452.7" x2="514.1" y2="459.3" stroke="#3aae8a" stroke-width="0.85" opacity="0.85"/>
<line x1="398" y1="454.8" x2="514" y2="454.8" stroke="#e8202a" stroke-width="1.3" stroke-dasharray="3.0,2.6" />
</svg>
</body></html>
